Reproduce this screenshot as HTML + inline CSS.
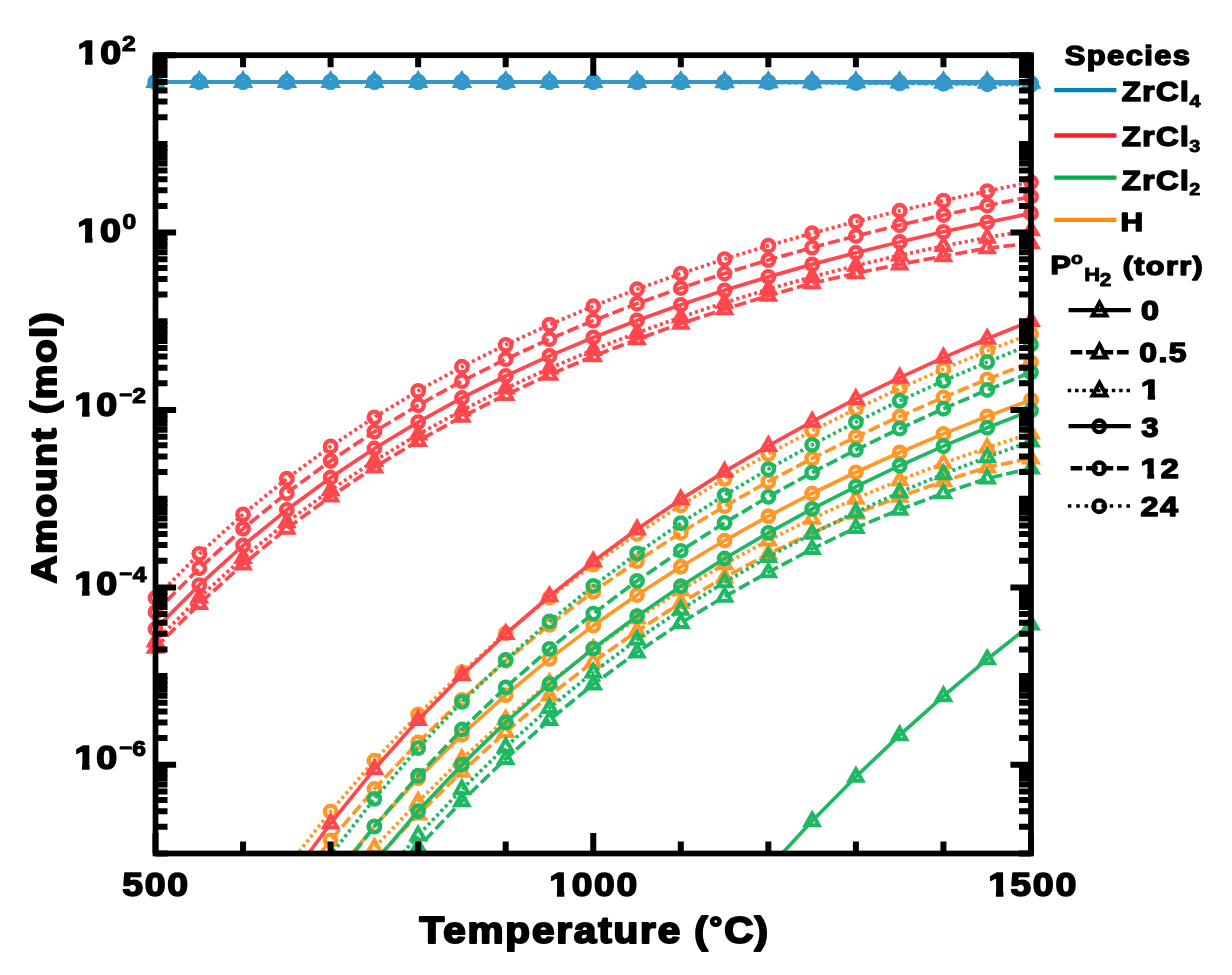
<!DOCTYPE html>
<html lang="en"><head><meta charset="utf-8"><title>Amount vs Temperature</title>
<style>html,body{margin:0;padding:0;background:#fff}svg{display:block}</style></head>
<body>
<svg width="1232" height="975" viewBox="0 0 1232 975">
<defs><clipPath id="cp"><rect x="155.5" y="55.2" width="875.5" height="798.3"/></clipPath><clipPath id="k0"><path clip-rule="evenodd" d="M-2000,-200 H2000 V200 H-2000 Z M67.02,-5.85 H74.21 V2.60 H67.02 Z M80.71,-5.85 H87.48 V2.60 H80.71 Z"/></clipPath><clipPath id="k1"><path clip-rule="evenodd" d="M-2000,-200 H2000 V200 H-2000 Z M66.93,-5.85 H74.12 V2.60 H66.93 Z M80.62,-5.85 H87.39 V2.60 H80.62 Z"/></clipPath><clipPath id="k2"><path clip-rule="evenodd" d="M-2000,-200 H2000 V200 H-2000 Z M64.40,-5.85 H71.59 V2.60 H64.40 Z M78.09,-5.85 H84.87 V2.60 H78.09 Z"/></clipPath><clipPath id="k3"><path clip-rule="evenodd" d="M-2000,-200 H2000 V200 H-2000 Z M64.40,-5.85 H71.59 V2.60 H64.40 Z M78.09,-5.85 H84.87 V2.60 H78.09 Z"/></clipPath><clipPath id="k4"><path clip-rule="evenodd" d="M-2000,-200 H2000 V200 H-2000 Z M64.40,-5.85 H71.59 V2.60 H64.40 Z M78.09,-5.85 H84.87 V2.60 H78.09 Z"/></clipPath><clipPath id="k5"><path clip-rule="evenodd" d="M-2000,-200 H2000 V200 H-2000 Z M496.55,-5.94 H503.88 V2.60 H496.55 Z M510.50,-5.94 H517.41 V2.60 H510.50 Z"/></clipPath><clipPath id="k6"><path clip-rule="evenodd" d="M-2000,-200 H2000 V200 H-2000 Z M885.10,-5.94 H892.44 V2.60 H885.10 Z M899.06,-5.94 H905.97 V2.60 H899.06 Z"/></clipPath><clipPath id="k7"><path clip-rule="evenodd" d="M-2000,-200 H2000 V200 H-2000 Z M880.60,-5.23 H886.79 V2.50 H880.60 Z M892.43,-5.23 H898.28 V2.50 H892.43 Z"/></clipPath><clipPath id="k8"><path clip-rule="evenodd" d="M-2000,-200 H2000 V200 H-2000 Z M971.67,-5.36 H978.08 V2.50 H971.67 Z M983.89,-5.36 H989.93 V2.50 H983.89 Z"/></clipPath></defs>
<rect width="1232" height="975" fill="#fff"/>
<g id="data">
<polyline points="155.50,1112.41 199.28,1065.27 243.05,1013.51 286.82,960.89 330.60,909.51 374.38,860.52 418.15,814.49 461.92,771.65 505.70,732.02 549.48,695.51 593.25,661.94 637.03,631.13 680.80,602.87 724.58,577.31 768.35,553.89 812.12,532.83 855.90,513.56 899.67,496.67 943.45,481.26 987.22,467.20 1031.00,458.37" fill="none" stroke="#FF9828" stroke-width="3.7" stroke-linejoin="round" stroke-dasharray="12 4.2" clip-path="url(#cp)"/>
<path d="M418.15,806.96 L424.74,818.59 L411.56,818.59 Z" fill="none" stroke="#FF9828" stroke-width="4.0" stroke-linejoin="miter" stroke-miterlimit="10"/>
<path d="M461.92,764.12 L468.51,775.75 L455.33,775.75 Z" fill="none" stroke="#FF9828" stroke-width="4.0" stroke-linejoin="miter" stroke-miterlimit="10"/>
<path d="M505.70,724.49 L512.29,736.12 L499.11,736.12 Z" fill="none" stroke="#FF9828" stroke-width="4.0" stroke-linejoin="miter" stroke-miterlimit="10"/>
<path d="M549.48,687.98 L556.07,699.61 L542.88,699.61 Z" fill="none" stroke="#FF9828" stroke-width="4.0" stroke-linejoin="miter" stroke-miterlimit="10"/>
<path d="M593.25,654.41 L599.84,666.04 L586.66,666.04 Z" fill="none" stroke="#FF9828" stroke-width="4.0" stroke-linejoin="miter" stroke-miterlimit="10"/>
<path d="M637.03,623.60 L643.62,635.23 L630.44,635.23 Z" fill="none" stroke="#FF9828" stroke-width="4.0" stroke-linejoin="miter" stroke-miterlimit="10"/>
<path d="M680.80,595.34 L687.39,606.97 L674.21,606.97 Z" fill="none" stroke="#FF9828" stroke-width="4.0" stroke-linejoin="miter" stroke-miterlimit="10"/>
<path d="M724.58,569.78 L731.17,581.41 L717.99,581.41 Z" fill="none" stroke="#FF9828" stroke-width="4.0" stroke-linejoin="miter" stroke-miterlimit="10"/>
<path d="M768.35,546.36 L774.94,557.99 L761.76,557.99 Z" fill="none" stroke="#FF9828" stroke-width="4.0" stroke-linejoin="miter" stroke-miterlimit="10"/>
<path d="M812.12,525.30 L818.72,536.93 L805.53,536.93 Z" fill="none" stroke="#FF9828" stroke-width="4.0" stroke-linejoin="miter" stroke-miterlimit="10"/>
<path d="M855.90,506.03 L862.49,517.66 L849.31,517.66 Z" fill="none" stroke="#FF9828" stroke-width="4.0" stroke-linejoin="miter" stroke-miterlimit="10"/>
<path d="M899.67,489.14 L906.26,500.77 L893.08,500.77 Z" fill="none" stroke="#FF9828" stroke-width="4.0" stroke-linejoin="miter" stroke-miterlimit="10"/>
<path d="M943.45,473.73 L950.04,485.36 L936.86,485.36 Z" fill="none" stroke="#FF9828" stroke-width="4.0" stroke-linejoin="miter" stroke-miterlimit="10"/>
<path d="M987.22,459.67 L993.81,471.30 L980.63,471.30 Z" fill="none" stroke="#FF9828" stroke-width="4.0" stroke-linejoin="miter" stroke-miterlimit="10"/>
<path d="M1031.00,450.84 L1037.59,462.47 L1024.41,462.47 Z" fill="none" stroke="#FF9828" stroke-width="4.0" stroke-linejoin="miter" stroke-miterlimit="10"/>
<polyline points="155.50,1099.61 199.28,1052.47 243.05,1000.71 286.82,948.09 330.60,896.71 374.38,847.72 418.15,801.69 461.92,758.85 505.70,719.22 549.48,682.71 593.25,649.14 637.03,618.33 680.80,590.07 724.58,564.16 768.35,540.39 812.12,518.58 855.90,498.56 899.67,480.17 943.45,463.26 987.22,447.70 1031.00,433.37" fill="none" stroke="#FF9828" stroke-width="3.7" stroke-linejoin="round" stroke-dasharray="3.1 3.1" clip-path="url(#cp)"/>
<path d="M374.38,840.19 L380.96,851.82 L367.79,851.82 Z" fill="none" stroke="#FF9828" stroke-width="4.0" stroke-linejoin="miter" stroke-miterlimit="10"/>
<path d="M418.15,794.16 L424.74,805.79 L411.56,805.79 Z" fill="none" stroke="#FF9828" stroke-width="4.0" stroke-linejoin="miter" stroke-miterlimit="10"/>
<path d="M461.92,751.32 L468.51,762.95 L455.33,762.95 Z" fill="none" stroke="#FF9828" stroke-width="4.0" stroke-linejoin="miter" stroke-miterlimit="10"/>
<path d="M505.70,711.69 L512.29,723.32 L499.11,723.32 Z" fill="none" stroke="#FF9828" stroke-width="4.0" stroke-linejoin="miter" stroke-miterlimit="10"/>
<path d="M549.48,675.18 L556.07,686.81 L542.88,686.81 Z" fill="none" stroke="#FF9828" stroke-width="4.0" stroke-linejoin="miter" stroke-miterlimit="10"/>
<path d="M593.25,641.61 L599.84,653.24 L586.66,653.24 Z" fill="none" stroke="#FF9828" stroke-width="4.0" stroke-linejoin="miter" stroke-miterlimit="10"/>
<path d="M637.03,610.80 L643.62,622.43 L630.44,622.43 Z" fill="none" stroke="#FF9828" stroke-width="4.0" stroke-linejoin="miter" stroke-miterlimit="10"/>
<path d="M680.80,582.54 L687.39,594.17 L674.21,594.17 Z" fill="none" stroke="#FF9828" stroke-width="4.0" stroke-linejoin="miter" stroke-miterlimit="10"/>
<path d="M724.58,556.63 L731.17,568.26 L717.99,568.26 Z" fill="none" stroke="#FF9828" stroke-width="4.0" stroke-linejoin="miter" stroke-miterlimit="10"/>
<path d="M768.35,532.86 L774.94,544.49 L761.76,544.49 Z" fill="none" stroke="#FF9828" stroke-width="4.0" stroke-linejoin="miter" stroke-miterlimit="10"/>
<path d="M812.12,511.05 L818.72,522.68 L805.53,522.68 Z" fill="none" stroke="#FF9828" stroke-width="4.0" stroke-linejoin="miter" stroke-miterlimit="10"/>
<path d="M855.90,491.03 L862.49,502.66 L849.31,502.66 Z" fill="none" stroke="#FF9828" stroke-width="4.0" stroke-linejoin="miter" stroke-miterlimit="10"/>
<path d="M899.67,472.64 L906.26,484.27 L893.08,484.27 Z" fill="none" stroke="#FF9828" stroke-width="4.0" stroke-linejoin="miter" stroke-miterlimit="10"/>
<path d="M943.45,455.73 L950.04,467.36 L936.86,467.36 Z" fill="none" stroke="#FF9828" stroke-width="4.0" stroke-linejoin="miter" stroke-miterlimit="10"/>
<path d="M987.22,440.17 L993.81,451.80 L980.63,451.80 Z" fill="none" stroke="#FF9828" stroke-width="4.0" stroke-linejoin="miter" stroke-miterlimit="10"/>
<path d="M1031.00,425.84 L1037.59,437.47 L1024.41,437.47 Z" fill="none" stroke="#FF9828" stroke-width="4.0" stroke-linejoin="miter" stroke-miterlimit="10"/>
<polyline points="155.50,1166.96 199.28,1081.09 243.05,1005.70 286.82,939.01 330.60,879.58 374.38,826.31 418.15,778.27 461.92,734.74 505.70,695.11 549.48,658.88 593.25,625.64 637.03,595.02 680.80,566.74 724.58,540.53 768.35,516.17 812.12,493.48 855.90,472.28 899.67,452.45 943.45,433.84 987.22,416.35 1031.00,399.89" fill="none" stroke="#FF9828" stroke-width="3.7" stroke-linejoin="round" clip-path="url(#cp)"/>
<circle cx="374.38" cy="826.31" r="5.7" fill="none" stroke="#FF9828" stroke-width="4.4"/>
<circle cx="418.15" cy="778.27" r="5.7" fill="none" stroke="#FF9828" stroke-width="4.4"/>
<circle cx="461.92" cy="734.74" r="5.7" fill="none" stroke="#FF9828" stroke-width="4.4"/>
<circle cx="505.70" cy="695.11" r="5.7" fill="none" stroke="#FF9828" stroke-width="4.4"/>
<circle cx="549.48" cy="658.88" r="5.7" fill="none" stroke="#FF9828" stroke-width="4.4"/>
<circle cx="593.25" cy="625.64" r="5.7" fill="none" stroke="#FF9828" stroke-width="4.4"/>
<circle cx="637.03" cy="595.02" r="5.7" fill="none" stroke="#FF9828" stroke-width="4.4"/>
<circle cx="680.80" cy="566.74" r="5.7" fill="none" stroke="#FF9828" stroke-width="4.4"/>
<circle cx="724.58" cy="540.53" r="5.7" fill="none" stroke="#FF9828" stroke-width="4.4"/>
<circle cx="768.35" cy="516.17" r="5.7" fill="none" stroke="#FF9828" stroke-width="4.4"/>
<circle cx="812.12" cy="493.48" r="5.7" fill="none" stroke="#FF9828" stroke-width="4.4"/>
<circle cx="855.90" cy="472.28" r="5.7" fill="none" stroke="#FF9828" stroke-width="4.4"/>
<circle cx="899.67" cy="452.45" r="5.7" fill="none" stroke="#FF9828" stroke-width="4.4"/>
<circle cx="943.45" cy="433.84" r="5.7" fill="none" stroke="#FF9828" stroke-width="4.4"/>
<circle cx="987.22" cy="416.35" r="5.7" fill="none" stroke="#FF9828" stroke-width="4.4"/>
<circle cx="1031.00" cy="399.89" r="5.7" fill="none" stroke="#FF9828" stroke-width="4.4"/>
<polyline points="155.50,1110.18 199.28,1030.74 243.05,960.17 286.82,897.07 330.60,840.31 374.38,788.98 418.15,742.35 461.92,699.78 505.70,660.78 549.48,624.91 593.25,591.81 637.03,561.18 680.80,532.74 724.58,506.27 768.35,481.57 812.12,458.47 855.90,436.81 899.67,416.48 943.45,397.35 987.22,379.31 1031.00,362.28" fill="none" stroke="#FF9828" stroke-width="3.7" stroke-linejoin="round" stroke-dasharray="12 4.2" clip-path="url(#cp)"/>
<circle cx="330.60" cy="840.31" r="5.7" fill="none" stroke="#FF9828" stroke-width="4.4"/>
<circle cx="374.38" cy="788.98" r="5.7" fill="none" stroke="#FF9828" stroke-width="4.4"/>
<circle cx="418.15" cy="742.35" r="5.7" fill="none" stroke="#FF9828" stroke-width="4.4"/>
<circle cx="461.92" cy="699.78" r="5.7" fill="none" stroke="#FF9828" stroke-width="4.4"/>
<circle cx="505.70" cy="660.78" r="5.7" fill="none" stroke="#FF9828" stroke-width="4.4"/>
<circle cx="549.48" cy="624.91" r="5.7" fill="none" stroke="#FF9828" stroke-width="4.4"/>
<circle cx="593.25" cy="591.81" r="5.7" fill="none" stroke="#FF9828" stroke-width="4.4"/>
<circle cx="637.03" cy="561.18" r="5.7" fill="none" stroke="#FF9828" stroke-width="4.4"/>
<circle cx="680.80" cy="532.74" r="5.7" fill="none" stroke="#FF9828" stroke-width="4.4"/>
<circle cx="724.58" cy="506.27" r="5.7" fill="none" stroke="#FF9828" stroke-width="4.4"/>
<circle cx="768.35" cy="481.57" r="5.7" fill="none" stroke="#FF9828" stroke-width="4.4"/>
<circle cx="812.12" cy="458.47" r="5.7" fill="none" stroke="#FF9828" stroke-width="4.4"/>
<circle cx="855.90" cy="436.81" r="5.7" fill="none" stroke="#FF9828" stroke-width="4.4"/>
<circle cx="899.67" cy="416.48" r="5.7" fill="none" stroke="#FF9828" stroke-width="4.4"/>
<circle cx="943.45" cy="397.35" r="5.7" fill="none" stroke="#FF9828" stroke-width="4.4"/>
<circle cx="987.22" cy="379.31" r="5.7" fill="none" stroke="#FF9828" stroke-width="4.4"/>
<circle cx="1031.00" cy="362.28" r="5.7" fill="none" stroke="#FF9828" stroke-width="4.4"/>
<polyline points="155.50,1076.08 199.28,998.59 243.05,929.47 286.82,867.45 330.60,811.48 374.38,760.73 418.15,714.50 461.92,672.22 505.70,633.39 549.48,597.62 593.25,564.55 637.03,533.89 680.80,505.39 724.58,478.83 768.35,454.01 812.12,430.78 855.90,408.98 899.67,388.48 943.45,369.17 987.22,350.96 1031.00,333.75" fill="none" stroke="#FF9828" stroke-width="3.7" stroke-linejoin="round" stroke-dasharray="3.1 3.1" clip-path="url(#cp)"/>
<circle cx="330.60" cy="811.48" r="5.7" fill="none" stroke="#FF9828" stroke-width="4.4"/>
<circle cx="374.38" cy="760.73" r="5.7" fill="none" stroke="#FF9828" stroke-width="4.4"/>
<circle cx="418.15" cy="714.50" r="5.7" fill="none" stroke="#FF9828" stroke-width="4.4"/>
<circle cx="461.92" cy="672.22" r="5.7" fill="none" stroke="#FF9828" stroke-width="4.4"/>
<circle cx="505.70" cy="633.39" r="5.7" fill="none" stroke="#FF9828" stroke-width="4.4"/>
<circle cx="549.48" cy="597.62" r="5.7" fill="none" stroke="#FF9828" stroke-width="4.4"/>
<circle cx="593.25" cy="564.55" r="5.7" fill="none" stroke="#FF9828" stroke-width="4.4"/>
<circle cx="637.03" cy="533.89" r="5.7" fill="none" stroke="#FF9828" stroke-width="4.4"/>
<circle cx="680.80" cy="505.39" r="5.7" fill="none" stroke="#FF9828" stroke-width="4.4"/>
<circle cx="724.58" cy="478.83" r="5.7" fill="none" stroke="#FF9828" stroke-width="4.4"/>
<circle cx="768.35" cy="454.01" r="5.7" fill="none" stroke="#FF9828" stroke-width="4.4"/>
<circle cx="812.12" cy="430.78" r="5.7" fill="none" stroke="#FF9828" stroke-width="4.4"/>
<circle cx="855.90" cy="408.98" r="5.7" fill="none" stroke="#FF9828" stroke-width="4.4"/>
<circle cx="899.67" cy="388.48" r="5.7" fill="none" stroke="#FF9828" stroke-width="4.4"/>
<circle cx="943.45" cy="369.17" r="5.7" fill="none" stroke="#FF9828" stroke-width="4.4"/>
<circle cx="987.22" cy="350.96" r="5.7" fill="none" stroke="#FF9828" stroke-width="4.4"/>
<circle cx="1031.00" cy="333.75" r="5.7" fill="none" stroke="#FF9828" stroke-width="4.4"/>
<polyline points="461.92,1317.61 505.70,1237.02 549.48,1163.02 593.25,1094.84 637.03,1031.81 680.80,973.37 724.58,919.03 768.35,868.39 812.12,821.07 855.90,776.76 899.67,735.17 943.45,696.08 987.22,659.25 1031.00,624.50" fill="none" stroke="#1FB862" stroke-width="3.7" stroke-linejoin="round" clip-path="url(#cp)"/>
<path d="M812.12,813.54 L818.72,825.17 L805.53,825.17 Z" fill="none" stroke="#1FB862" stroke-width="4.0" stroke-linejoin="miter" stroke-miterlimit="10"/>
<path d="M855.90,769.23 L862.49,780.86 L849.31,780.86 Z" fill="none" stroke="#1FB862" stroke-width="4.0" stroke-linejoin="miter" stroke-miterlimit="10"/>
<path d="M899.67,727.64 L906.26,739.27 L893.08,739.27 Z" fill="none" stroke="#1FB862" stroke-width="4.0" stroke-linejoin="miter" stroke-miterlimit="10"/>
<path d="M943.45,688.55 L950.04,700.18 L936.86,700.18 Z" fill="none" stroke="#1FB862" stroke-width="4.0" stroke-linejoin="miter" stroke-miterlimit="10"/>
<path d="M987.22,651.72 L993.81,663.35 L980.63,663.35 Z" fill="none" stroke="#1FB862" stroke-width="4.0" stroke-linejoin="miter" stroke-miterlimit="10"/>
<path d="M1031.00,616.97 L1037.59,628.60 L1024.41,628.60 Z" fill="none" stroke="#1FB862" stroke-width="4.0" stroke-linejoin="miter" stroke-miterlimit="10"/>
<polyline points="155.50,1205.30 199.28,1138.69 243.05,1073.22 286.82,1010.73 330.60,952.09 374.38,897.64 418.15,847.40 461.92,801.20 505.70,758.82 549.48,719.96 593.25,684.35 637.03,652.30 680.80,622.94 724.58,596.53 768.35,572.24 812.12,548.95 855.90,527.79 899.67,509.57 943.45,493.26 987.22,478.42 1031.00,468.41" fill="none" stroke="#1FB862" stroke-width="3.7" stroke-linejoin="round" stroke-dasharray="12 4.2" clip-path="url(#cp)"/>
<path d="M418.15,839.87 L424.74,851.50 L411.56,851.50 Z" fill="none" stroke="#1FB862" stroke-width="4.0" stroke-linejoin="miter" stroke-miterlimit="10"/>
<path d="M461.92,793.67 L468.51,805.30 L455.33,805.30 Z" fill="none" stroke="#1FB862" stroke-width="4.0" stroke-linejoin="miter" stroke-miterlimit="10"/>
<path d="M505.70,751.29 L512.29,762.92 L499.11,762.92 Z" fill="none" stroke="#1FB862" stroke-width="4.0" stroke-linejoin="miter" stroke-miterlimit="10"/>
<path d="M549.48,712.43 L556.07,724.06 L542.88,724.06 Z" fill="none" stroke="#1FB862" stroke-width="4.0" stroke-linejoin="miter" stroke-miterlimit="10"/>
<path d="M593.25,676.82 L599.84,688.45 L586.66,688.45 Z" fill="none" stroke="#1FB862" stroke-width="4.0" stroke-linejoin="miter" stroke-miterlimit="10"/>
<path d="M637.03,644.77 L643.62,656.40 L630.44,656.40 Z" fill="none" stroke="#1FB862" stroke-width="4.0" stroke-linejoin="miter" stroke-miterlimit="10"/>
<path d="M680.80,615.41 L687.39,627.04 L674.21,627.04 Z" fill="none" stroke="#1FB862" stroke-width="4.0" stroke-linejoin="miter" stroke-miterlimit="10"/>
<path d="M724.58,589.00 L731.17,600.63 L717.99,600.63 Z" fill="none" stroke="#1FB862" stroke-width="4.0" stroke-linejoin="miter" stroke-miterlimit="10"/>
<path d="M768.35,564.71 L774.94,576.34 L761.76,576.34 Z" fill="none" stroke="#1FB862" stroke-width="4.0" stroke-linejoin="miter" stroke-miterlimit="10"/>
<path d="M812.12,541.42 L818.72,553.05 L805.53,553.05 Z" fill="none" stroke="#1FB862" stroke-width="4.0" stroke-linejoin="miter" stroke-miterlimit="10"/>
<path d="M855.90,520.26 L862.49,531.89 L849.31,531.89 Z" fill="none" stroke="#1FB862" stroke-width="4.0" stroke-linejoin="miter" stroke-miterlimit="10"/>
<path d="M899.67,502.04 L906.26,513.67 L893.08,513.67 Z" fill="none" stroke="#1FB862" stroke-width="4.0" stroke-linejoin="miter" stroke-miterlimit="10"/>
<path d="M943.45,485.73 L950.04,497.36 L936.86,497.36 Z" fill="none" stroke="#1FB862" stroke-width="4.0" stroke-linejoin="miter" stroke-miterlimit="10"/>
<path d="M987.22,470.89 L993.81,482.52 L980.63,482.52 Z" fill="none" stroke="#1FB862" stroke-width="4.0" stroke-linejoin="miter" stroke-miterlimit="10"/>
<path d="M1031.00,460.88 L1037.59,472.51 L1024.41,472.51 Z" fill="none" stroke="#1FB862" stroke-width="4.0" stroke-linejoin="miter" stroke-miterlimit="10"/>
<polyline points="155.50,1193.30 199.28,1126.69 243.05,1061.22 286.82,998.73 330.60,940.09 374.38,885.64 418.15,835.40 461.92,789.20 505.70,746.82 549.48,707.96 593.25,672.35 637.03,639.70 680.80,609.74 724.58,582.23 768.35,556.94 812.12,533.65 855.90,512.19 899.67,492.37 943.45,474.06 987.22,457.12 1031.00,441.41" fill="none" stroke="#1FB862" stroke-width="3.7" stroke-linejoin="round" stroke-dasharray="3.1 3.1" clip-path="url(#cp)"/>
<path d="M418.15,827.87 L424.74,839.50 L411.56,839.50 Z" fill="none" stroke="#1FB862" stroke-width="4.0" stroke-linejoin="miter" stroke-miterlimit="10"/>
<path d="M461.92,781.67 L468.51,793.30 L455.33,793.30 Z" fill="none" stroke="#1FB862" stroke-width="4.0" stroke-linejoin="miter" stroke-miterlimit="10"/>
<path d="M505.70,739.29 L512.29,750.92 L499.11,750.92 Z" fill="none" stroke="#1FB862" stroke-width="4.0" stroke-linejoin="miter" stroke-miterlimit="10"/>
<path d="M549.48,700.43 L556.07,712.06 L542.88,712.06 Z" fill="none" stroke="#1FB862" stroke-width="4.0" stroke-linejoin="miter" stroke-miterlimit="10"/>
<path d="M593.25,664.82 L599.84,676.45 L586.66,676.45 Z" fill="none" stroke="#1FB862" stroke-width="4.0" stroke-linejoin="miter" stroke-miterlimit="10"/>
<path d="M637.03,632.17 L643.62,643.80 L630.44,643.80 Z" fill="none" stroke="#1FB862" stroke-width="4.0" stroke-linejoin="miter" stroke-miterlimit="10"/>
<path d="M680.80,602.21 L687.39,613.84 L674.21,613.84 Z" fill="none" stroke="#1FB862" stroke-width="4.0" stroke-linejoin="miter" stroke-miterlimit="10"/>
<path d="M724.58,574.70 L731.17,586.33 L717.99,586.33 Z" fill="none" stroke="#1FB862" stroke-width="4.0" stroke-linejoin="miter" stroke-miterlimit="10"/>
<path d="M768.35,549.41 L774.94,561.04 L761.76,561.04 Z" fill="none" stroke="#1FB862" stroke-width="4.0" stroke-linejoin="miter" stroke-miterlimit="10"/>
<path d="M812.12,526.12 L818.72,537.75 L805.53,537.75 Z" fill="none" stroke="#1FB862" stroke-width="4.0" stroke-linejoin="miter" stroke-miterlimit="10"/>
<path d="M855.90,504.66 L862.49,516.29 L849.31,516.29 Z" fill="none" stroke="#1FB862" stroke-width="4.0" stroke-linejoin="miter" stroke-miterlimit="10"/>
<path d="M899.67,484.84 L906.26,496.47 L893.08,496.47 Z" fill="none" stroke="#1FB862" stroke-width="4.0" stroke-linejoin="miter" stroke-miterlimit="10"/>
<path d="M943.45,466.53 L950.04,478.16 L936.86,478.16 Z" fill="none" stroke="#1FB862" stroke-width="4.0" stroke-linejoin="miter" stroke-miterlimit="10"/>
<path d="M987.22,449.59 L993.81,461.22 L980.63,461.22 Z" fill="none" stroke="#1FB862" stroke-width="4.0" stroke-linejoin="miter" stroke-miterlimit="10"/>
<path d="M1031.00,433.88 L1037.59,445.51 L1024.41,445.51 Z" fill="none" stroke="#1FB862" stroke-width="4.0" stroke-linejoin="miter" stroke-miterlimit="10"/>
<polyline points="155.50,1230.00 199.28,1136.87 243.05,1055.38 286.82,983.49 330.60,919.62 374.38,862.50 418.15,811.12 461.92,764.65 505.70,722.43 549.48,683.91 593.25,648.61 637.03,616.16 680.80,586.23 724.58,558.52 768.35,532.81 812.12,508.88 855.90,486.56 899.67,465.69 943.45,446.14 987.22,427.78 1031.00,410.51" fill="none" stroke="#1FB862" stroke-width="3.7" stroke-linejoin="round" clip-path="url(#cp)"/>
<circle cx="418.15" cy="811.12" r="5.7" fill="none" stroke="#1FB862" stroke-width="4.4"/>
<circle cx="461.92" cy="764.65" r="5.7" fill="none" stroke="#1FB862" stroke-width="4.4"/>
<circle cx="505.70" cy="722.43" r="5.7" fill="none" stroke="#1FB862" stroke-width="4.4"/>
<circle cx="549.48" cy="683.91" r="5.7" fill="none" stroke="#1FB862" stroke-width="4.4"/>
<circle cx="593.25" cy="648.61" r="5.7" fill="none" stroke="#1FB862" stroke-width="4.4"/>
<circle cx="637.03" cy="616.16" r="5.7" fill="none" stroke="#1FB862" stroke-width="4.4"/>
<circle cx="680.80" cy="586.23" r="5.7" fill="none" stroke="#1FB862" stroke-width="4.4"/>
<circle cx="724.58" cy="558.52" r="5.7" fill="none" stroke="#1FB862" stroke-width="4.4"/>
<circle cx="768.35" cy="532.81" r="5.7" fill="none" stroke="#1FB862" stroke-width="4.4"/>
<circle cx="812.12" cy="508.88" r="5.7" fill="none" stroke="#1FB862" stroke-width="4.4"/>
<circle cx="855.90" cy="486.56" r="5.7" fill="none" stroke="#1FB862" stroke-width="4.4"/>
<circle cx="899.67" cy="465.69" r="5.7" fill="none" stroke="#1FB862" stroke-width="4.4"/>
<circle cx="943.45" cy="446.14" r="5.7" fill="none" stroke="#1FB862" stroke-width="4.4"/>
<circle cx="987.22" cy="427.78" r="5.7" fill="none" stroke="#1FB862" stroke-width="4.4"/>
<circle cx="1031.00" cy="410.51" r="5.7" fill="none" stroke="#1FB862" stroke-width="4.4"/>
<polyline points="155.50,1185.31 199.28,1095.18 243.05,1015.90 286.82,945.61 330.60,882.88 374.38,826.54 418.15,775.67 461.92,729.51 505.70,687.43 549.48,648.92 593.25,613.55 637.03,580.94 680.80,550.78 724.58,522.81 768.35,496.80 812.12,472.55 855.90,449.88 899.67,428.65 943.45,408.73 987.22,389.99 1031.00,372.34" fill="none" stroke="#1FB862" stroke-width="3.7" stroke-linejoin="round" stroke-dasharray="12 4.2" clip-path="url(#cp)"/>
<circle cx="374.38" cy="826.54" r="5.7" fill="none" stroke="#1FB862" stroke-width="4.4"/>
<circle cx="418.15" cy="775.67" r="5.7" fill="none" stroke="#1FB862" stroke-width="4.4"/>
<circle cx="461.92" cy="729.51" r="5.7" fill="none" stroke="#1FB862" stroke-width="4.4"/>
<circle cx="505.70" cy="687.43" r="5.7" fill="none" stroke="#1FB862" stroke-width="4.4"/>
<circle cx="549.48" cy="648.92" r="5.7" fill="none" stroke="#1FB862" stroke-width="4.4"/>
<circle cx="593.25" cy="613.55" r="5.7" fill="none" stroke="#1FB862" stroke-width="4.4"/>
<circle cx="637.03" cy="580.94" r="5.7" fill="none" stroke="#1FB862" stroke-width="4.4"/>
<circle cx="680.80" cy="550.78" r="5.7" fill="none" stroke="#1FB862" stroke-width="4.4"/>
<circle cx="724.58" cy="522.81" r="5.7" fill="none" stroke="#1FB862" stroke-width="4.4"/>
<circle cx="768.35" cy="496.80" r="5.7" fill="none" stroke="#1FB862" stroke-width="4.4"/>
<circle cx="812.12" cy="472.55" r="5.7" fill="none" stroke="#1FB862" stroke-width="4.4"/>
<circle cx="855.90" cy="449.88" r="5.7" fill="none" stroke="#1FB862" stroke-width="4.4"/>
<circle cx="899.67" cy="428.65" r="5.7" fill="none" stroke="#1FB862" stroke-width="4.4"/>
<circle cx="943.45" cy="408.73" r="5.7" fill="none" stroke="#1FB862" stroke-width="4.4"/>
<circle cx="987.22" cy="389.99" r="5.7" fill="none" stroke="#1FB862" stroke-width="4.4"/>
<circle cx="1031.00" cy="372.34" r="5.7" fill="none" stroke="#1FB862" stroke-width="4.4"/>
<polyline points="155.50,1156.31 199.28,1066.64 243.05,987.68 286.82,917.63 330.60,855.07 374.38,798.85 418.15,748.06 461.92,701.95 505.70,659.90 549.48,621.40 593.25,586.02 637.03,553.39 680.80,523.20 724.58,495.20 768.35,469.15 812.12,444.85 855.90,422.13 899.67,400.86 943.45,380.88 987.22,362.09 1031.00,344.38" fill="none" stroke="#1FB862" stroke-width="3.7" stroke-linejoin="round" stroke-dasharray="3.1 3.1" clip-path="url(#cp)"/>
<circle cx="374.38" cy="798.85" r="5.7" fill="none" stroke="#1FB862" stroke-width="4.4"/>
<circle cx="418.15" cy="748.06" r="5.7" fill="none" stroke="#1FB862" stroke-width="4.4"/>
<circle cx="461.92" cy="701.95" r="5.7" fill="none" stroke="#1FB862" stroke-width="4.4"/>
<circle cx="505.70" cy="659.90" r="5.7" fill="none" stroke="#1FB862" stroke-width="4.4"/>
<circle cx="549.48" cy="621.40" r="5.7" fill="none" stroke="#1FB862" stroke-width="4.4"/>
<circle cx="593.25" cy="586.02" r="5.7" fill="none" stroke="#1FB862" stroke-width="4.4"/>
<circle cx="637.03" cy="553.39" r="5.7" fill="none" stroke="#1FB862" stroke-width="4.4"/>
<circle cx="680.80" cy="523.20" r="5.7" fill="none" stroke="#1FB862" stroke-width="4.4"/>
<circle cx="724.58" cy="495.20" r="5.7" fill="none" stroke="#1FB862" stroke-width="4.4"/>
<circle cx="768.35" cy="469.15" r="5.7" fill="none" stroke="#1FB862" stroke-width="4.4"/>
<circle cx="812.12" cy="444.85" r="5.7" fill="none" stroke="#1FB862" stroke-width="4.4"/>
<circle cx="855.90" cy="422.13" r="5.7" fill="none" stroke="#1FB862" stroke-width="4.4"/>
<circle cx="899.67" cy="400.86" r="5.7" fill="none" stroke="#1FB862" stroke-width="4.4"/>
<circle cx="943.45" cy="380.88" r="5.7" fill="none" stroke="#1FB862" stroke-width="4.4"/>
<circle cx="987.22" cy="362.09" r="5.7" fill="none" stroke="#1FB862" stroke-width="4.4"/>
<circle cx="1031.00" cy="344.38" r="5.7" fill="none" stroke="#1FB862" stroke-width="4.4"/>
<polyline points="155.50,1109.61 199.28,1025.14 243.05,950.25 286.82,883.40 330.60,823.35 374.38,769.13 418.15,719.92 461.92,675.05 505.70,633.98 549.48,596.25 593.25,561.46 637.03,529.28 680.80,499.43 724.58,471.67 768.35,445.78 812.12,421.58 855.90,398.91 899.67,377.63 943.45,357.61 987.22,338.75 1031.00,320.95" fill="none" stroke="#FF474D" stroke-width="3.7" stroke-linejoin="round" clip-path="url(#cp)"/>
<path d="M330.60,815.82 L337.19,827.45 L324.01,827.45 Z" fill="none" stroke="#FF474D" stroke-width="4.0" stroke-linejoin="miter" stroke-miterlimit="10"/>
<path d="M374.38,761.60 L380.96,773.23 L367.79,773.23 Z" fill="none" stroke="#FF474D" stroke-width="4.0" stroke-linejoin="miter" stroke-miterlimit="10"/>
<path d="M418.15,712.39 L424.74,724.02 L411.56,724.02 Z" fill="none" stroke="#FF474D" stroke-width="4.0" stroke-linejoin="miter" stroke-miterlimit="10"/>
<path d="M461.92,667.52 L468.51,679.15 L455.33,679.15 Z" fill="none" stroke="#FF474D" stroke-width="4.0" stroke-linejoin="miter" stroke-miterlimit="10"/>
<path d="M505.70,626.45 L512.29,638.08 L499.11,638.08 Z" fill="none" stroke="#FF474D" stroke-width="4.0" stroke-linejoin="miter" stroke-miterlimit="10"/>
<path d="M549.48,588.72 L556.07,600.35 L542.88,600.35 Z" fill="none" stroke="#FF474D" stroke-width="4.0" stroke-linejoin="miter" stroke-miterlimit="10"/>
<path d="M593.25,553.93 L599.84,565.56 L586.66,565.56 Z" fill="none" stroke="#FF474D" stroke-width="4.0" stroke-linejoin="miter" stroke-miterlimit="10"/>
<path d="M637.03,521.75 L643.62,533.38 L630.44,533.38 Z" fill="none" stroke="#FF474D" stroke-width="4.0" stroke-linejoin="miter" stroke-miterlimit="10"/>
<path d="M680.80,491.90 L687.39,503.53 L674.21,503.53 Z" fill="none" stroke="#FF474D" stroke-width="4.0" stroke-linejoin="miter" stroke-miterlimit="10"/>
<path d="M724.58,464.14 L731.17,475.77 L717.99,475.77 Z" fill="none" stroke="#FF474D" stroke-width="4.0" stroke-linejoin="miter" stroke-miterlimit="10"/>
<path d="M768.35,438.25 L774.94,449.88 L761.76,449.88 Z" fill="none" stroke="#FF474D" stroke-width="4.0" stroke-linejoin="miter" stroke-miterlimit="10"/>
<path d="M812.12,414.05 L818.72,425.68 L805.53,425.68 Z" fill="none" stroke="#FF474D" stroke-width="4.0" stroke-linejoin="miter" stroke-miterlimit="10"/>
<path d="M855.90,391.38 L862.49,403.01 L849.31,403.01 Z" fill="none" stroke="#FF474D" stroke-width="4.0" stroke-linejoin="miter" stroke-miterlimit="10"/>
<path d="M899.67,370.10 L906.26,381.73 L893.08,381.73 Z" fill="none" stroke="#FF474D" stroke-width="4.0" stroke-linejoin="miter" stroke-miterlimit="10"/>
<path d="M943.45,350.08 L950.04,361.71 L936.86,361.71 Z" fill="none" stroke="#FF474D" stroke-width="4.0" stroke-linejoin="miter" stroke-miterlimit="10"/>
<path d="M987.22,331.22 L993.81,342.85 L980.63,342.85 Z" fill="none" stroke="#FF474D" stroke-width="4.0" stroke-linejoin="miter" stroke-miterlimit="10"/>
<path d="M1031.00,313.42 L1037.59,325.05 L1024.41,325.05 Z" fill="none" stroke="#FF474D" stroke-width="4.0" stroke-linejoin="miter" stroke-miterlimit="10"/>
<polyline points="155.50,647.75 199.28,603.84 243.05,564.30 286.82,528.64 330.60,496.45 374.38,467.30 418.15,440.85 461.92,416.77 505.70,394.80 549.48,374.68 593.25,356.23 637.03,339.25 680.80,323.58 724.58,309.09 768.35,295.66 812.12,283.19 855.90,273.27 899.67,264.34 943.45,256.21 987.22,248.13 1031.00,243.23" fill="none" stroke="#FF474D" stroke-width="3.7" stroke-linejoin="round" stroke-dasharray="12 4.2" clip-path="url(#cp)"/>
<path d="M155.50,640.22 L162.09,651.85 L148.91,651.85 Z" fill="none" stroke="#FF474D" stroke-width="4.0" stroke-linejoin="miter" stroke-miterlimit="10"/>
<path d="M199.28,596.31 L205.87,607.94 L192.69,607.94 Z" fill="none" stroke="#FF474D" stroke-width="4.0" stroke-linejoin="miter" stroke-miterlimit="10"/>
<path d="M243.05,556.77 L249.64,568.40 L236.46,568.40 Z" fill="none" stroke="#FF474D" stroke-width="4.0" stroke-linejoin="miter" stroke-miterlimit="10"/>
<path d="M286.82,521.11 L293.41,532.74 L280.24,532.74 Z" fill="none" stroke="#FF474D" stroke-width="4.0" stroke-linejoin="miter" stroke-miterlimit="10"/>
<path d="M330.60,488.92 L337.19,500.55 L324.01,500.55 Z" fill="none" stroke="#FF474D" stroke-width="4.0" stroke-linejoin="miter" stroke-miterlimit="10"/>
<path d="M374.38,459.77 L380.96,471.40 L367.79,471.40 Z" fill="none" stroke="#FF474D" stroke-width="4.0" stroke-linejoin="miter" stroke-miterlimit="10"/>
<path d="M418.15,433.32 L424.74,444.95 L411.56,444.95 Z" fill="none" stroke="#FF474D" stroke-width="4.0" stroke-linejoin="miter" stroke-miterlimit="10"/>
<path d="M461.92,409.24 L468.51,420.87 L455.33,420.87 Z" fill="none" stroke="#FF474D" stroke-width="4.0" stroke-linejoin="miter" stroke-miterlimit="10"/>
<path d="M505.70,387.27 L512.29,398.90 L499.11,398.90 Z" fill="none" stroke="#FF474D" stroke-width="4.0" stroke-linejoin="miter" stroke-miterlimit="10"/>
<path d="M549.48,367.15 L556.07,378.78 L542.88,378.78 Z" fill="none" stroke="#FF474D" stroke-width="4.0" stroke-linejoin="miter" stroke-miterlimit="10"/>
<path d="M593.25,348.70 L599.84,360.33 L586.66,360.33 Z" fill="none" stroke="#FF474D" stroke-width="4.0" stroke-linejoin="miter" stroke-miterlimit="10"/>
<path d="M637.03,331.72 L643.62,343.35 L630.44,343.35 Z" fill="none" stroke="#FF474D" stroke-width="4.0" stroke-linejoin="miter" stroke-miterlimit="10"/>
<path d="M680.80,316.05 L687.39,327.68 L674.21,327.68 Z" fill="none" stroke="#FF474D" stroke-width="4.0" stroke-linejoin="miter" stroke-miterlimit="10"/>
<path d="M724.58,301.56 L731.17,313.19 L717.99,313.19 Z" fill="none" stroke="#FF474D" stroke-width="4.0" stroke-linejoin="miter" stroke-miterlimit="10"/>
<path d="M768.35,288.13 L774.94,299.76 L761.76,299.76 Z" fill="none" stroke="#FF474D" stroke-width="4.0" stroke-linejoin="miter" stroke-miterlimit="10"/>
<path d="M812.12,275.66 L818.72,287.29 L805.53,287.29 Z" fill="none" stroke="#FF474D" stroke-width="4.0" stroke-linejoin="miter" stroke-miterlimit="10"/>
<path d="M855.90,265.74 L862.49,277.37 L849.31,277.37 Z" fill="none" stroke="#FF474D" stroke-width="4.0" stroke-linejoin="miter" stroke-miterlimit="10"/>
<path d="M899.67,256.81 L906.26,268.44 L893.08,268.44 Z" fill="none" stroke="#FF474D" stroke-width="4.0" stroke-linejoin="miter" stroke-miterlimit="10"/>
<path d="M943.45,248.68 L950.04,260.31 L936.86,260.31 Z" fill="none" stroke="#FF474D" stroke-width="4.0" stroke-linejoin="miter" stroke-miterlimit="10"/>
<path d="M987.22,240.60 L993.81,252.23 L980.63,252.23 Z" fill="none" stroke="#FF474D" stroke-width="4.0" stroke-linejoin="miter" stroke-miterlimit="10"/>
<path d="M1031.00,235.70 L1037.59,247.33 L1024.41,247.33 Z" fill="none" stroke="#FF474D" stroke-width="4.0" stroke-linejoin="miter" stroke-miterlimit="10"/>
<polyline points="155.50,641.35 199.28,597.44 243.05,557.90 286.82,522.24 330.60,490.05 374.38,460.90 418.15,434.45 461.92,410.37 505.70,388.40 549.48,368.28 593.25,349.83 637.03,332.85 680.80,317.18 724.58,302.69 768.35,289.26 812.12,276.79 855.90,265.57 899.67,255.34 943.45,246.01 987.22,237.53 1031.00,230.23" fill="none" stroke="#FF474D" stroke-width="3.7" stroke-linejoin="round" stroke-dasharray="3.1 3.1" clip-path="url(#cp)"/>
<path d="M155.50,633.82 L162.09,645.45 L148.91,645.45 Z" fill="none" stroke="#FF474D" stroke-width="4.0" stroke-linejoin="miter" stroke-miterlimit="10"/>
<path d="M199.28,589.91 L205.87,601.54 L192.69,601.54 Z" fill="none" stroke="#FF474D" stroke-width="4.0" stroke-linejoin="miter" stroke-miterlimit="10"/>
<path d="M243.05,550.37 L249.64,562.00 L236.46,562.00 Z" fill="none" stroke="#FF474D" stroke-width="4.0" stroke-linejoin="miter" stroke-miterlimit="10"/>
<path d="M286.82,514.71 L293.41,526.34 L280.24,526.34 Z" fill="none" stroke="#FF474D" stroke-width="4.0" stroke-linejoin="miter" stroke-miterlimit="10"/>
<path d="M330.60,482.52 L337.19,494.15 L324.01,494.15 Z" fill="none" stroke="#FF474D" stroke-width="4.0" stroke-linejoin="miter" stroke-miterlimit="10"/>
<path d="M374.38,453.37 L380.96,465.00 L367.79,465.00 Z" fill="none" stroke="#FF474D" stroke-width="4.0" stroke-linejoin="miter" stroke-miterlimit="10"/>
<path d="M418.15,426.92 L424.74,438.55 L411.56,438.55 Z" fill="none" stroke="#FF474D" stroke-width="4.0" stroke-linejoin="miter" stroke-miterlimit="10"/>
<path d="M461.92,402.84 L468.51,414.47 L455.33,414.47 Z" fill="none" stroke="#FF474D" stroke-width="4.0" stroke-linejoin="miter" stroke-miterlimit="10"/>
<path d="M505.70,380.87 L512.29,392.50 L499.11,392.50 Z" fill="none" stroke="#FF474D" stroke-width="4.0" stroke-linejoin="miter" stroke-miterlimit="10"/>
<path d="M549.48,360.75 L556.07,372.38 L542.88,372.38 Z" fill="none" stroke="#FF474D" stroke-width="4.0" stroke-linejoin="miter" stroke-miterlimit="10"/>
<path d="M593.25,342.30 L599.84,353.93 L586.66,353.93 Z" fill="none" stroke="#FF474D" stroke-width="4.0" stroke-linejoin="miter" stroke-miterlimit="10"/>
<path d="M637.03,325.32 L643.62,336.95 L630.44,336.95 Z" fill="none" stroke="#FF474D" stroke-width="4.0" stroke-linejoin="miter" stroke-miterlimit="10"/>
<path d="M680.80,309.65 L687.39,321.28 L674.21,321.28 Z" fill="none" stroke="#FF474D" stroke-width="4.0" stroke-linejoin="miter" stroke-miterlimit="10"/>
<path d="M724.58,295.16 L731.17,306.79 L717.99,306.79 Z" fill="none" stroke="#FF474D" stroke-width="4.0" stroke-linejoin="miter" stroke-miterlimit="10"/>
<path d="M768.35,281.73 L774.94,293.36 L761.76,293.36 Z" fill="none" stroke="#FF474D" stroke-width="4.0" stroke-linejoin="miter" stroke-miterlimit="10"/>
<path d="M812.12,269.26 L818.72,280.89 L805.53,280.89 Z" fill="none" stroke="#FF474D" stroke-width="4.0" stroke-linejoin="miter" stroke-miterlimit="10"/>
<path d="M855.90,258.04 L862.49,269.67 L849.31,269.67 Z" fill="none" stroke="#FF474D" stroke-width="4.0" stroke-linejoin="miter" stroke-miterlimit="10"/>
<path d="M899.67,247.81 L906.26,259.44 L893.08,259.44 Z" fill="none" stroke="#FF474D" stroke-width="4.0" stroke-linejoin="miter" stroke-miterlimit="10"/>
<path d="M943.45,238.48 L950.04,250.11 L936.86,250.11 Z" fill="none" stroke="#FF474D" stroke-width="4.0" stroke-linejoin="miter" stroke-miterlimit="10"/>
<path d="M987.22,230.00 L993.81,241.63 L980.63,241.63 Z" fill="none" stroke="#FF474D" stroke-width="4.0" stroke-linejoin="miter" stroke-miterlimit="10"/>
<path d="M1031.00,222.70 L1037.59,234.33 L1024.41,234.33 Z" fill="none" stroke="#FF474D" stroke-width="4.0" stroke-linejoin="miter" stroke-miterlimit="10"/>
<polyline points="155.50,628.95 199.28,585.04 243.05,545.50 286.82,509.84 330.60,477.65 374.38,448.50 418.15,422.05 461.92,397.97 505.70,376.00 549.48,355.88 593.25,337.43 637.03,320.45 680.80,304.78 724.58,290.29 768.35,276.86 812.12,264.39 855.90,252.77 899.67,241.94 943.45,231.81 987.22,222.33 1031.00,213.43" fill="none" stroke="#FF474D" stroke-width="3.7" stroke-linejoin="round" clip-path="url(#cp)"/>
<circle cx="155.50" cy="628.95" r="5.7" fill="none" stroke="#FF474D" stroke-width="4.4"/>
<circle cx="199.28" cy="585.04" r="5.7" fill="none" stroke="#FF474D" stroke-width="4.4"/>
<circle cx="243.05" cy="545.50" r="5.7" fill="none" stroke="#FF474D" stroke-width="4.4"/>
<circle cx="286.82" cy="509.84" r="5.7" fill="none" stroke="#FF474D" stroke-width="4.4"/>
<circle cx="330.60" cy="477.65" r="5.7" fill="none" stroke="#FF474D" stroke-width="4.4"/>
<circle cx="374.38" cy="448.50" r="5.7" fill="none" stroke="#FF474D" stroke-width="4.4"/>
<circle cx="418.15" cy="422.05" r="5.7" fill="none" stroke="#FF474D" stroke-width="4.4"/>
<circle cx="461.92" cy="397.97" r="5.7" fill="none" stroke="#FF474D" stroke-width="4.4"/>
<circle cx="505.70" cy="376.00" r="5.7" fill="none" stroke="#FF474D" stroke-width="4.4"/>
<circle cx="549.48" cy="355.88" r="5.7" fill="none" stroke="#FF474D" stroke-width="4.4"/>
<circle cx="593.25" cy="337.43" r="5.7" fill="none" stroke="#FF474D" stroke-width="4.4"/>
<circle cx="637.03" cy="320.45" r="5.7" fill="none" stroke="#FF474D" stroke-width="4.4"/>
<circle cx="680.80" cy="304.78" r="5.7" fill="none" stroke="#FF474D" stroke-width="4.4"/>
<circle cx="724.58" cy="290.29" r="5.7" fill="none" stroke="#FF474D" stroke-width="4.4"/>
<circle cx="768.35" cy="276.86" r="5.7" fill="none" stroke="#FF474D" stroke-width="4.4"/>
<circle cx="812.12" cy="264.39" r="5.7" fill="none" stroke="#FF474D" stroke-width="4.4"/>
<circle cx="855.90" cy="252.77" r="5.7" fill="none" stroke="#FF474D" stroke-width="4.4"/>
<circle cx="899.67" cy="241.94" r="5.7" fill="none" stroke="#FF474D" stroke-width="4.4"/>
<circle cx="943.45" cy="231.81" r="5.7" fill="none" stroke="#FF474D" stroke-width="4.4"/>
<circle cx="987.22" cy="222.33" r="5.7" fill="none" stroke="#FF474D" stroke-width="4.4"/>
<circle cx="1031.00" cy="213.43" r="5.7" fill="none" stroke="#FF474D" stroke-width="4.4"/>
<polyline points="155.50,612.15 199.28,568.24 243.05,528.70 286.82,493.04 330.60,460.85 374.38,431.70 418.15,405.25 461.92,381.17 505.70,359.20 549.48,339.08 593.25,320.63 637.03,303.65 680.80,287.98 724.58,273.49 768.35,260.06 812.12,247.59 855.90,235.97 899.67,225.14 943.45,215.01 987.22,205.53 1031.00,196.63" fill="none" stroke="#FF474D" stroke-width="3.7" stroke-linejoin="round" stroke-dasharray="12 4.2" clip-path="url(#cp)"/>
<circle cx="155.50" cy="612.15" r="5.7" fill="none" stroke="#FF474D" stroke-width="4.4"/>
<circle cx="199.28" cy="568.24" r="5.7" fill="none" stroke="#FF474D" stroke-width="4.4"/>
<circle cx="243.05" cy="528.70" r="5.7" fill="none" stroke="#FF474D" stroke-width="4.4"/>
<circle cx="286.82" cy="493.04" r="5.7" fill="none" stroke="#FF474D" stroke-width="4.4"/>
<circle cx="330.60" cy="460.85" r="5.7" fill="none" stroke="#FF474D" stroke-width="4.4"/>
<circle cx="374.38" cy="431.70" r="5.7" fill="none" stroke="#FF474D" stroke-width="4.4"/>
<circle cx="418.15" cy="405.25" r="5.7" fill="none" stroke="#FF474D" stroke-width="4.4"/>
<circle cx="461.92" cy="381.17" r="5.7" fill="none" stroke="#FF474D" stroke-width="4.4"/>
<circle cx="505.70" cy="359.20" r="5.7" fill="none" stroke="#FF474D" stroke-width="4.4"/>
<circle cx="549.48" cy="339.08" r="5.7" fill="none" stroke="#FF474D" stroke-width="4.4"/>
<circle cx="593.25" cy="320.63" r="5.7" fill="none" stroke="#FF474D" stroke-width="4.4"/>
<circle cx="637.03" cy="303.65" r="5.7" fill="none" stroke="#FF474D" stroke-width="4.4"/>
<circle cx="680.80" cy="287.98" r="5.7" fill="none" stroke="#FF474D" stroke-width="4.4"/>
<circle cx="724.58" cy="273.49" r="5.7" fill="none" stroke="#FF474D" stroke-width="4.4"/>
<circle cx="768.35" cy="260.06" r="5.7" fill="none" stroke="#FF474D" stroke-width="4.4"/>
<circle cx="812.12" cy="247.59" r="5.7" fill="none" stroke="#FF474D" stroke-width="4.4"/>
<circle cx="855.90" cy="235.97" r="5.7" fill="none" stroke="#FF474D" stroke-width="4.4"/>
<circle cx="899.67" cy="225.14" r="5.7" fill="none" stroke="#FF474D" stroke-width="4.4"/>
<circle cx="943.45" cy="215.01" r="5.7" fill="none" stroke="#FF474D" stroke-width="4.4"/>
<circle cx="987.22" cy="205.53" r="5.7" fill="none" stroke="#FF474D" stroke-width="4.4"/>
<circle cx="1031.00" cy="196.63" r="5.7" fill="none" stroke="#FF474D" stroke-width="4.4"/>
<polyline points="155.50,597.75 199.28,553.84 243.05,514.30 286.82,478.64 330.60,446.45 374.38,417.30 418.15,390.85 461.92,366.77 505.70,344.80 549.48,324.68 593.25,306.23 637.03,289.25 680.80,273.58 724.58,259.09 768.35,245.66 812.12,233.19 855.90,221.57 899.67,210.74 943.45,200.61 987.22,191.13 1031.00,182.23" fill="none" stroke="#FF474D" stroke-width="3.7" stroke-linejoin="round" stroke-dasharray="3.1 3.1" clip-path="url(#cp)"/>
<circle cx="155.50" cy="597.75" r="5.7" fill="none" stroke="#FF474D" stroke-width="4.4"/>
<circle cx="199.28" cy="553.84" r="5.7" fill="none" stroke="#FF474D" stroke-width="4.4"/>
<circle cx="243.05" cy="514.30" r="5.7" fill="none" stroke="#FF474D" stroke-width="4.4"/>
<circle cx="286.82" cy="478.64" r="5.7" fill="none" stroke="#FF474D" stroke-width="4.4"/>
<circle cx="330.60" cy="446.45" r="5.7" fill="none" stroke="#FF474D" stroke-width="4.4"/>
<circle cx="374.38" cy="417.30" r="5.7" fill="none" stroke="#FF474D" stroke-width="4.4"/>
<circle cx="418.15" cy="390.85" r="5.7" fill="none" stroke="#FF474D" stroke-width="4.4"/>
<circle cx="461.92" cy="366.77" r="5.7" fill="none" stroke="#FF474D" stroke-width="4.4"/>
<circle cx="505.70" cy="344.80" r="5.7" fill="none" stroke="#FF474D" stroke-width="4.4"/>
<circle cx="549.48" cy="324.68" r="5.7" fill="none" stroke="#FF474D" stroke-width="4.4"/>
<circle cx="593.25" cy="306.23" r="5.7" fill="none" stroke="#FF474D" stroke-width="4.4"/>
<circle cx="637.03" cy="289.25" r="5.7" fill="none" stroke="#FF474D" stroke-width="4.4"/>
<circle cx="680.80" cy="273.58" r="5.7" fill="none" stroke="#FF474D" stroke-width="4.4"/>
<circle cx="724.58" cy="259.09" r="5.7" fill="none" stroke="#FF474D" stroke-width="4.4"/>
<circle cx="768.35" cy="245.66" r="5.7" fill="none" stroke="#FF474D" stroke-width="4.4"/>
<circle cx="812.12" cy="233.19" r="5.7" fill="none" stroke="#FF474D" stroke-width="4.4"/>
<circle cx="855.90" cy="221.57" r="5.7" fill="none" stroke="#FF474D" stroke-width="4.4"/>
<circle cx="899.67" cy="210.74" r="5.7" fill="none" stroke="#FF474D" stroke-width="4.4"/>
<circle cx="943.45" cy="200.61" r="5.7" fill="none" stroke="#FF474D" stroke-width="4.4"/>
<circle cx="987.22" cy="191.13" r="5.7" fill="none" stroke="#FF474D" stroke-width="4.4"/>
<circle cx="1031.00" cy="182.23" r="5.7" fill="none" stroke="#FF474D" stroke-width="4.4"/>
<polyline points="155.50,81.90 199.28,81.90 243.05,81.90 286.82,81.90 330.60,81.90 374.38,81.90 418.15,81.90 461.92,81.90 505.70,81.90 549.48,81.90 593.25,81.90 637.03,81.90 680.80,81.90 724.58,81.90 768.35,81.90 812.12,81.91 855.90,81.91 899.67,81.92 943.45,81.93 987.22,81.95 1031.00,81.98" fill="none" stroke="#3398C9" stroke-width="3.7" stroke-linejoin="round" clip-path="url(#cp)"/>
<path d="M155.50,74.37 L162.09,86.00 L148.91,86.00 Z" fill="none" stroke="#3398C9" stroke-width="4.0" stroke-linejoin="miter" stroke-miterlimit="10"/>
<path d="M199.28,74.37 L205.87,86.00 L192.69,86.00 Z" fill="none" stroke="#3398C9" stroke-width="4.0" stroke-linejoin="miter" stroke-miterlimit="10"/>
<path d="M243.05,74.37 L249.64,86.00 L236.46,86.00 Z" fill="none" stroke="#3398C9" stroke-width="4.0" stroke-linejoin="miter" stroke-miterlimit="10"/>
<path d="M286.82,74.37 L293.41,86.00 L280.24,86.00 Z" fill="none" stroke="#3398C9" stroke-width="4.0" stroke-linejoin="miter" stroke-miterlimit="10"/>
<path d="M330.60,74.37 L337.19,86.00 L324.01,86.00 Z" fill="none" stroke="#3398C9" stroke-width="4.0" stroke-linejoin="miter" stroke-miterlimit="10"/>
<path d="M374.38,74.37 L380.96,86.00 L367.79,86.00 Z" fill="none" stroke="#3398C9" stroke-width="4.0" stroke-linejoin="miter" stroke-miterlimit="10"/>
<path d="M418.15,74.37 L424.74,86.00 L411.56,86.00 Z" fill="none" stroke="#3398C9" stroke-width="4.0" stroke-linejoin="miter" stroke-miterlimit="10"/>
<path d="M461.92,74.37 L468.51,86.00 L455.33,86.00 Z" fill="none" stroke="#3398C9" stroke-width="4.0" stroke-linejoin="miter" stroke-miterlimit="10"/>
<path d="M505.70,74.37 L512.29,86.00 L499.11,86.00 Z" fill="none" stroke="#3398C9" stroke-width="4.0" stroke-linejoin="miter" stroke-miterlimit="10"/>
<path d="M549.48,74.37 L556.07,86.00 L542.88,86.00 Z" fill="none" stroke="#3398C9" stroke-width="4.0" stroke-linejoin="miter" stroke-miterlimit="10"/>
<path d="M593.25,74.37 L599.84,86.00 L586.66,86.00 Z" fill="none" stroke="#3398C9" stroke-width="4.0" stroke-linejoin="miter" stroke-miterlimit="10"/>
<path d="M637.03,74.37 L643.62,86.00 L630.44,86.00 Z" fill="none" stroke="#3398C9" stroke-width="4.0" stroke-linejoin="miter" stroke-miterlimit="10"/>
<path d="M680.80,74.37 L687.39,86.00 L674.21,86.00 Z" fill="none" stroke="#3398C9" stroke-width="4.0" stroke-linejoin="miter" stroke-miterlimit="10"/>
<path d="M724.58,74.37 L731.17,86.00 L717.99,86.00 Z" fill="none" stroke="#3398C9" stroke-width="4.0" stroke-linejoin="miter" stroke-miterlimit="10"/>
<path d="M768.35,74.37 L774.94,86.00 L761.76,86.00 Z" fill="none" stroke="#3398C9" stroke-width="4.0" stroke-linejoin="miter" stroke-miterlimit="10"/>
<path d="M812.12,74.38 L818.72,86.01 L805.53,86.01 Z" fill="none" stroke="#3398C9" stroke-width="4.0" stroke-linejoin="miter" stroke-miterlimit="10"/>
<path d="M855.90,74.38 L862.49,86.01 L849.31,86.01 Z" fill="none" stroke="#3398C9" stroke-width="4.0" stroke-linejoin="miter" stroke-miterlimit="10"/>
<path d="M899.67,74.39 L906.26,86.02 L893.08,86.02 Z" fill="none" stroke="#3398C9" stroke-width="4.0" stroke-linejoin="miter" stroke-miterlimit="10"/>
<path d="M943.45,74.40 L950.04,86.03 L936.86,86.03 Z" fill="none" stroke="#3398C9" stroke-width="4.0" stroke-linejoin="miter" stroke-miterlimit="10"/>
<path d="M987.22,74.42 L993.81,86.05 L980.63,86.05 Z" fill="none" stroke="#3398C9" stroke-width="4.0" stroke-linejoin="miter" stroke-miterlimit="10"/>
<path d="M1031.00,74.45 L1037.59,86.08 L1024.41,86.08 Z" fill="none" stroke="#3398C9" stroke-width="4.0" stroke-linejoin="miter" stroke-miterlimit="10"/>
<polyline points="155.50,81.90 199.28,81.90 243.05,81.90 286.82,81.90 330.60,81.90 374.38,81.90 418.15,81.90 461.92,81.91 505.70,81.91 549.48,81.92 593.25,81.93 637.03,81.95 680.80,81.97 724.58,82.01 768.35,82.05 812.12,82.11 855.90,82.17 899.67,82.24 943.45,82.32 987.22,82.42 1031.00,82.49" fill="none" stroke="#3398C9" stroke-width="3.7" stroke-linejoin="round" stroke-dasharray="12 4.2" clip-path="url(#cp)"/>
<path d="M155.50,74.37 L162.09,86.00 L148.91,86.00 Z" fill="none" stroke="#3398C9" stroke-width="4.0" stroke-linejoin="miter" stroke-miterlimit="10"/>
<path d="M199.28,74.37 L205.87,86.00 L192.69,86.00 Z" fill="none" stroke="#3398C9" stroke-width="4.0" stroke-linejoin="miter" stroke-miterlimit="10"/>
<path d="M243.05,74.37 L249.64,86.00 L236.46,86.00 Z" fill="none" stroke="#3398C9" stroke-width="4.0" stroke-linejoin="miter" stroke-miterlimit="10"/>
<path d="M286.82,74.37 L293.41,86.00 L280.24,86.00 Z" fill="none" stroke="#3398C9" stroke-width="4.0" stroke-linejoin="miter" stroke-miterlimit="10"/>
<path d="M330.60,74.37 L337.19,86.00 L324.01,86.00 Z" fill="none" stroke="#3398C9" stroke-width="4.0" stroke-linejoin="miter" stroke-miterlimit="10"/>
<path d="M374.38,74.37 L380.96,86.00 L367.79,86.00 Z" fill="none" stroke="#3398C9" stroke-width="4.0" stroke-linejoin="miter" stroke-miterlimit="10"/>
<path d="M418.15,74.37 L424.74,86.00 L411.56,86.00 Z" fill="none" stroke="#3398C9" stroke-width="4.0" stroke-linejoin="miter" stroke-miterlimit="10"/>
<path d="M461.92,74.38 L468.51,86.01 L455.33,86.01 Z" fill="none" stroke="#3398C9" stroke-width="4.0" stroke-linejoin="miter" stroke-miterlimit="10"/>
<path d="M505.70,74.38 L512.29,86.01 L499.11,86.01 Z" fill="none" stroke="#3398C9" stroke-width="4.0" stroke-linejoin="miter" stroke-miterlimit="10"/>
<path d="M549.48,74.39 L556.07,86.02 L542.88,86.02 Z" fill="none" stroke="#3398C9" stroke-width="4.0" stroke-linejoin="miter" stroke-miterlimit="10"/>
<path d="M593.25,74.40 L599.84,86.03 L586.66,86.03 Z" fill="none" stroke="#3398C9" stroke-width="4.0" stroke-linejoin="miter" stroke-miterlimit="10"/>
<path d="M637.03,74.42 L643.62,86.05 L630.44,86.05 Z" fill="none" stroke="#3398C9" stroke-width="4.0" stroke-linejoin="miter" stroke-miterlimit="10"/>
<path d="M680.80,74.44 L687.39,86.07 L674.21,86.07 Z" fill="none" stroke="#3398C9" stroke-width="4.0" stroke-linejoin="miter" stroke-miterlimit="10"/>
<path d="M724.58,74.48 L731.17,86.11 L717.99,86.11 Z" fill="none" stroke="#3398C9" stroke-width="4.0" stroke-linejoin="miter" stroke-miterlimit="10"/>
<path d="M768.35,74.52 L774.94,86.15 L761.76,86.15 Z" fill="none" stroke="#3398C9" stroke-width="4.0" stroke-linejoin="miter" stroke-miterlimit="10"/>
<path d="M812.12,74.58 L818.72,86.21 L805.53,86.21 Z" fill="none" stroke="#3398C9" stroke-width="4.0" stroke-linejoin="miter" stroke-miterlimit="10"/>
<path d="M855.90,74.64 L862.49,86.27 L849.31,86.27 Z" fill="none" stroke="#3398C9" stroke-width="4.0" stroke-linejoin="miter" stroke-miterlimit="10"/>
<path d="M899.67,74.71 L906.26,86.34 L893.08,86.34 Z" fill="none" stroke="#3398C9" stroke-width="4.0" stroke-linejoin="miter" stroke-miterlimit="10"/>
<path d="M943.45,74.79 L950.04,86.42 L936.86,86.42 Z" fill="none" stroke="#3398C9" stroke-width="4.0" stroke-linejoin="miter" stroke-miterlimit="10"/>
<path d="M987.22,74.89 L993.81,86.52 L980.63,86.52 Z" fill="none" stroke="#3398C9" stroke-width="4.0" stroke-linejoin="miter" stroke-miterlimit="10"/>
<path d="M1031.00,74.96 L1037.59,86.59 L1024.41,86.59 Z" fill="none" stroke="#3398C9" stroke-width="4.0" stroke-linejoin="miter" stroke-miterlimit="10"/>
<polyline points="155.50,81.90 199.28,81.90 243.05,81.90 286.82,81.90 330.60,81.90 374.38,81.90 418.15,81.91 461.92,81.91 505.70,81.91 549.48,81.92 593.25,81.94 637.03,81.96 680.80,81.99 724.58,82.03 768.35,82.08 812.12,82.15 855.90,82.23 899.67,82.33 943.45,82.45 987.22,82.59 1031.00,82.73" fill="none" stroke="#3398C9" stroke-width="3.7" stroke-linejoin="round" stroke-dasharray="3.1 3.1" clip-path="url(#cp)"/>
<path d="M155.50,74.37 L162.09,86.00 L148.91,86.00 Z" fill="none" stroke="#3398C9" stroke-width="4.0" stroke-linejoin="miter" stroke-miterlimit="10"/>
<path d="M199.28,74.37 L205.87,86.00 L192.69,86.00 Z" fill="none" stroke="#3398C9" stroke-width="4.0" stroke-linejoin="miter" stroke-miterlimit="10"/>
<path d="M243.05,74.37 L249.64,86.00 L236.46,86.00 Z" fill="none" stroke="#3398C9" stroke-width="4.0" stroke-linejoin="miter" stroke-miterlimit="10"/>
<path d="M286.82,74.37 L293.41,86.00 L280.24,86.00 Z" fill="none" stroke="#3398C9" stroke-width="4.0" stroke-linejoin="miter" stroke-miterlimit="10"/>
<path d="M330.60,74.37 L337.19,86.00 L324.01,86.00 Z" fill="none" stroke="#3398C9" stroke-width="4.0" stroke-linejoin="miter" stroke-miterlimit="10"/>
<path d="M374.38,74.37 L380.96,86.00 L367.79,86.00 Z" fill="none" stroke="#3398C9" stroke-width="4.0" stroke-linejoin="miter" stroke-miterlimit="10"/>
<path d="M418.15,74.38 L424.74,86.01 L411.56,86.01 Z" fill="none" stroke="#3398C9" stroke-width="4.0" stroke-linejoin="miter" stroke-miterlimit="10"/>
<path d="M461.92,74.38 L468.51,86.01 L455.33,86.01 Z" fill="none" stroke="#3398C9" stroke-width="4.0" stroke-linejoin="miter" stroke-miterlimit="10"/>
<path d="M505.70,74.38 L512.29,86.01 L499.11,86.01 Z" fill="none" stroke="#3398C9" stroke-width="4.0" stroke-linejoin="miter" stroke-miterlimit="10"/>
<path d="M549.48,74.39 L556.07,86.02 L542.88,86.02 Z" fill="none" stroke="#3398C9" stroke-width="4.0" stroke-linejoin="miter" stroke-miterlimit="10"/>
<path d="M593.25,74.41 L599.84,86.04 L586.66,86.04 Z" fill="none" stroke="#3398C9" stroke-width="4.0" stroke-linejoin="miter" stroke-miterlimit="10"/>
<path d="M637.03,74.43 L643.62,86.06 L630.44,86.06 Z" fill="none" stroke="#3398C9" stroke-width="4.0" stroke-linejoin="miter" stroke-miterlimit="10"/>
<path d="M680.80,74.46 L687.39,86.09 L674.21,86.09 Z" fill="none" stroke="#3398C9" stroke-width="4.0" stroke-linejoin="miter" stroke-miterlimit="10"/>
<path d="M724.58,74.50 L731.17,86.13 L717.99,86.13 Z" fill="none" stroke="#3398C9" stroke-width="4.0" stroke-linejoin="miter" stroke-miterlimit="10"/>
<path d="M768.35,74.55 L774.94,86.18 L761.76,86.18 Z" fill="none" stroke="#3398C9" stroke-width="4.0" stroke-linejoin="miter" stroke-miterlimit="10"/>
<path d="M812.12,74.62 L818.72,86.25 L805.53,86.25 Z" fill="none" stroke="#3398C9" stroke-width="4.0" stroke-linejoin="miter" stroke-miterlimit="10"/>
<path d="M855.90,74.70 L862.49,86.33 L849.31,86.33 Z" fill="none" stroke="#3398C9" stroke-width="4.0" stroke-linejoin="miter" stroke-miterlimit="10"/>
<path d="M899.67,74.80 L906.26,86.43 L893.08,86.43 Z" fill="none" stroke="#3398C9" stroke-width="4.0" stroke-linejoin="miter" stroke-miterlimit="10"/>
<path d="M943.45,74.92 L950.04,86.55 L936.86,86.55 Z" fill="none" stroke="#3398C9" stroke-width="4.0" stroke-linejoin="miter" stroke-miterlimit="10"/>
<path d="M987.22,75.06 L993.81,86.69 L980.63,86.69 Z" fill="none" stroke="#3398C9" stroke-width="4.0" stroke-linejoin="miter" stroke-miterlimit="10"/>
<path d="M1031.00,75.20 L1037.59,86.83 L1024.41,86.83 Z" fill="none" stroke="#3398C9" stroke-width="4.0" stroke-linejoin="miter" stroke-miterlimit="10"/>
<polyline points="155.50,81.90 199.28,81.90 243.05,81.90 286.82,81.90 330.60,81.90 374.38,81.90 418.15,81.91 461.92,81.91 505.70,81.92 549.48,81.93 593.25,81.95 637.03,81.98 680.80,82.02 724.58,82.07 768.35,82.15 812.12,82.24 855.90,82.36 899.67,82.51 943.45,82.70 987.22,82.93 1031.00,83.20" fill="none" stroke="#3398C9" stroke-width="3.7" stroke-linejoin="round" clip-path="url(#cp)"/>
<circle cx="155.50" cy="81.90" r="5.7" fill="none" stroke="#3398C9" stroke-width="4.4"/>
<circle cx="199.28" cy="81.90" r="5.7" fill="none" stroke="#3398C9" stroke-width="4.4"/>
<circle cx="243.05" cy="81.90" r="5.7" fill="none" stroke="#3398C9" stroke-width="4.4"/>
<circle cx="286.82" cy="81.90" r="5.7" fill="none" stroke="#3398C9" stroke-width="4.4"/>
<circle cx="330.60" cy="81.90" r="5.7" fill="none" stroke="#3398C9" stroke-width="4.4"/>
<circle cx="374.38" cy="81.90" r="5.7" fill="none" stroke="#3398C9" stroke-width="4.4"/>
<circle cx="418.15" cy="81.91" r="5.7" fill="none" stroke="#3398C9" stroke-width="4.4"/>
<circle cx="461.92" cy="81.91" r="5.7" fill="none" stroke="#3398C9" stroke-width="4.4"/>
<circle cx="505.70" cy="81.92" r="5.7" fill="none" stroke="#3398C9" stroke-width="4.4"/>
<circle cx="549.48" cy="81.93" r="5.7" fill="none" stroke="#3398C9" stroke-width="4.4"/>
<circle cx="593.25" cy="81.95" r="5.7" fill="none" stroke="#3398C9" stroke-width="4.4"/>
<circle cx="637.03" cy="81.98" r="5.7" fill="none" stroke="#3398C9" stroke-width="4.4"/>
<circle cx="680.80" cy="82.02" r="5.7" fill="none" stroke="#3398C9" stroke-width="4.4"/>
<circle cx="724.58" cy="82.07" r="5.7" fill="none" stroke="#3398C9" stroke-width="4.4"/>
<circle cx="768.35" cy="82.15" r="5.7" fill="none" stroke="#3398C9" stroke-width="4.4"/>
<circle cx="812.12" cy="82.24" r="5.7" fill="none" stroke="#3398C9" stroke-width="4.4"/>
<circle cx="855.90" cy="82.36" r="5.7" fill="none" stroke="#3398C9" stroke-width="4.4"/>
<circle cx="899.67" cy="82.51" r="5.7" fill="none" stroke="#3398C9" stroke-width="4.4"/>
<circle cx="943.45" cy="82.70" r="5.7" fill="none" stroke="#3398C9" stroke-width="4.4"/>
<circle cx="987.22" cy="82.93" r="5.7" fill="none" stroke="#3398C9" stroke-width="4.4"/>
<circle cx="1031.00" cy="83.20" r="5.7" fill="none" stroke="#3398C9" stroke-width="4.4"/>
<polyline points="155.50,81.90 199.28,81.90 243.05,81.90 286.82,81.90 330.60,81.90 374.38,81.91 418.15,81.91 461.92,81.92 505.70,81.93 549.48,81.95 593.25,81.98 637.03,82.02 680.80,82.08 724.58,82.17 768.35,82.28 812.12,82.43 855.90,82.62 899.67,82.85 943.45,83.15 987.22,83.50 1031.00,83.93" fill="none" stroke="#3398C9" stroke-width="3.7" stroke-linejoin="round" stroke-dasharray="12 4.2" clip-path="url(#cp)"/>
<circle cx="155.50" cy="81.90" r="5.7" fill="none" stroke="#3398C9" stroke-width="4.4"/>
<circle cx="199.28" cy="81.90" r="5.7" fill="none" stroke="#3398C9" stroke-width="4.4"/>
<circle cx="243.05" cy="81.90" r="5.7" fill="none" stroke="#3398C9" stroke-width="4.4"/>
<circle cx="286.82" cy="81.90" r="5.7" fill="none" stroke="#3398C9" stroke-width="4.4"/>
<circle cx="330.60" cy="81.90" r="5.7" fill="none" stroke="#3398C9" stroke-width="4.4"/>
<circle cx="374.38" cy="81.91" r="5.7" fill="none" stroke="#3398C9" stroke-width="4.4"/>
<circle cx="418.15" cy="81.91" r="5.7" fill="none" stroke="#3398C9" stroke-width="4.4"/>
<circle cx="461.92" cy="81.92" r="5.7" fill="none" stroke="#3398C9" stroke-width="4.4"/>
<circle cx="505.70" cy="81.93" r="5.7" fill="none" stroke="#3398C9" stroke-width="4.4"/>
<circle cx="549.48" cy="81.95" r="5.7" fill="none" stroke="#3398C9" stroke-width="4.4"/>
<circle cx="593.25" cy="81.98" r="5.7" fill="none" stroke="#3398C9" stroke-width="4.4"/>
<circle cx="637.03" cy="82.02" r="5.7" fill="none" stroke="#3398C9" stroke-width="4.4"/>
<circle cx="680.80" cy="82.08" r="5.7" fill="none" stroke="#3398C9" stroke-width="4.4"/>
<circle cx="724.58" cy="82.17" r="5.7" fill="none" stroke="#3398C9" stroke-width="4.4"/>
<circle cx="768.35" cy="82.28" r="5.7" fill="none" stroke="#3398C9" stroke-width="4.4"/>
<circle cx="812.12" cy="82.43" r="5.7" fill="none" stroke="#3398C9" stroke-width="4.4"/>
<circle cx="855.90" cy="82.62" r="5.7" fill="none" stroke="#3398C9" stroke-width="4.4"/>
<circle cx="899.67" cy="82.85" r="5.7" fill="none" stroke="#3398C9" stroke-width="4.4"/>
<circle cx="943.45" cy="83.15" r="5.7" fill="none" stroke="#3398C9" stroke-width="4.4"/>
<circle cx="987.22" cy="83.50" r="5.7" fill="none" stroke="#3398C9" stroke-width="4.4"/>
<circle cx="1031.00" cy="83.93" r="5.7" fill="none" stroke="#3398C9" stroke-width="4.4"/>
<polyline points="155.50,81.90 199.28,81.90 243.05,81.90 286.82,81.90 330.60,81.90 374.38,81.91 418.15,81.91 461.92,81.93 505.70,81.94 549.48,81.97 593.25,82.02 637.03,82.08 680.80,82.17 724.58,82.29 768.35,82.46 812.12,82.67 855.90,82.95 899.67,83.30 943.45,83.73 987.22,84.26 1031.00,84.91" fill="none" stroke="#3398C9" stroke-width="3.7" stroke-linejoin="round" stroke-dasharray="3.1 3.1" clip-path="url(#cp)"/>
<circle cx="155.50" cy="81.90" r="5.7" fill="none" stroke="#3398C9" stroke-width="4.4"/>
<circle cx="199.28" cy="81.90" r="5.7" fill="none" stroke="#3398C9" stroke-width="4.4"/>
<circle cx="243.05" cy="81.90" r="5.7" fill="none" stroke="#3398C9" stroke-width="4.4"/>
<circle cx="286.82" cy="81.90" r="5.7" fill="none" stroke="#3398C9" stroke-width="4.4"/>
<circle cx="330.60" cy="81.90" r="5.7" fill="none" stroke="#3398C9" stroke-width="4.4"/>
<circle cx="374.38" cy="81.91" r="5.7" fill="none" stroke="#3398C9" stroke-width="4.4"/>
<circle cx="418.15" cy="81.91" r="5.7" fill="none" stroke="#3398C9" stroke-width="4.4"/>
<circle cx="461.92" cy="81.93" r="5.7" fill="none" stroke="#3398C9" stroke-width="4.4"/>
<circle cx="505.70" cy="81.94" r="5.7" fill="none" stroke="#3398C9" stroke-width="4.4"/>
<circle cx="549.48" cy="81.97" r="5.7" fill="none" stroke="#3398C9" stroke-width="4.4"/>
<circle cx="593.25" cy="82.02" r="5.7" fill="none" stroke="#3398C9" stroke-width="4.4"/>
<circle cx="637.03" cy="82.08" r="5.7" fill="none" stroke="#3398C9" stroke-width="4.4"/>
<circle cx="680.80" cy="82.17" r="5.7" fill="none" stroke="#3398C9" stroke-width="4.4"/>
<circle cx="724.58" cy="82.29" r="5.7" fill="none" stroke="#3398C9" stroke-width="4.4"/>
<circle cx="768.35" cy="82.46" r="5.7" fill="none" stroke="#3398C9" stroke-width="4.4"/>
<circle cx="812.12" cy="82.67" r="5.7" fill="none" stroke="#3398C9" stroke-width="4.4"/>
<circle cx="855.90" cy="82.95" r="5.7" fill="none" stroke="#3398C9" stroke-width="4.4"/>
<circle cx="899.67" cy="83.30" r="5.7" fill="none" stroke="#3398C9" stroke-width="4.4"/>
<circle cx="943.45" cy="83.73" r="5.7" fill="none" stroke="#3398C9" stroke-width="4.4"/>
<circle cx="987.22" cy="84.26" r="5.7" fill="none" stroke="#3398C9" stroke-width="4.4"/>
<circle cx="1031.00" cy="84.91" r="5.7" fill="none" stroke="#3398C9" stroke-width="4.4"/>
</g>
<g id="axes">
<rect x="155.5" y="55.2" width="875.5" height="798.3" fill="none" stroke="#000" stroke-width="5.7" stroke-linejoin="miter"/>
<path d="M155.5,853.50 h12.0 M1031.0,853.50 h-12.0" stroke="#000" stroke-width="6.0" fill="none"/>
<path d="M155.5,826.80 h12.0 M1031.0,826.80 h-12.0" stroke="#000" stroke-width="6.0" fill="none"/>
<path d="M155.5,811.18 h12.0 M1031.0,811.18 h-12.0" stroke="#000" stroke-width="6.0" fill="none"/>
<path d="M155.5,800.10 h12.0 M1031.0,800.10 h-12.0" stroke="#000" stroke-width="6.0" fill="none"/>
<path d="M155.5,791.50 h12.0 M1031.0,791.50 h-12.0" stroke="#000" stroke-width="6.0" fill="none"/>
<path d="M155.5,784.48 h12.0 M1031.0,784.48 h-12.0" stroke="#000" stroke-width="6.0" fill="none"/>
<path d="M155.5,778.54 h12.0 M1031.0,778.54 h-12.0" stroke="#000" stroke-width="6.0" fill="none"/>
<path d="M155.5,773.40 h12.0 M1031.0,773.40 h-12.0" stroke="#000" stroke-width="6.0" fill="none"/>
<path d="M155.5,768.86 h12.0 M1031.0,768.86 h-12.0" stroke="#000" stroke-width="6.0" fill="none"/>
<path d="M155.5,764.80 h20.6 M1031.0,764.80 h-20.6" stroke="#000" stroke-width="6.0" fill="none"/>
<path d="M155.5,738.10 h12.0 M1031.0,738.10 h-12.0" stroke="#000" stroke-width="6.0" fill="none"/>
<path d="M155.5,722.48 h12.0 M1031.0,722.48 h-12.0" stroke="#000" stroke-width="6.0" fill="none"/>
<path d="M155.5,711.40 h12.0 M1031.0,711.40 h-12.0" stroke="#000" stroke-width="6.0" fill="none"/>
<path d="M155.5,702.80 h12.0 M1031.0,702.80 h-12.0" stroke="#000" stroke-width="6.0" fill="none"/>
<path d="M155.5,695.78 h12.0 M1031.0,695.78 h-12.0" stroke="#000" stroke-width="6.0" fill="none"/>
<path d="M155.5,689.84 h12.0 M1031.0,689.84 h-12.0" stroke="#000" stroke-width="6.0" fill="none"/>
<path d="M155.5,684.70 h12.0 M1031.0,684.70 h-12.0" stroke="#000" stroke-width="6.0" fill="none"/>
<path d="M155.5,680.16 h12.0 M1031.0,680.16 h-12.0" stroke="#000" stroke-width="6.0" fill="none"/>
<path d="M155.5,676.10 h12.0 M1031.0,676.10 h-12.0" stroke="#000" stroke-width="6.0" fill="none"/>
<path d="M155.5,649.40 h12.0 M1031.0,649.40 h-12.0" stroke="#000" stroke-width="6.0" fill="none"/>
<path d="M155.5,633.78 h12.0 M1031.0,633.78 h-12.0" stroke="#000" stroke-width="6.0" fill="none"/>
<path d="M155.5,622.70 h12.0 M1031.0,622.70 h-12.0" stroke="#000" stroke-width="6.0" fill="none"/>
<path d="M155.5,614.10 h12.0 M1031.0,614.10 h-12.0" stroke="#000" stroke-width="6.0" fill="none"/>
<path d="M155.5,607.08 h12.0 M1031.0,607.08 h-12.0" stroke="#000" stroke-width="6.0" fill="none"/>
<path d="M155.5,601.14 h12.0 M1031.0,601.14 h-12.0" stroke="#000" stroke-width="6.0" fill="none"/>
<path d="M155.5,596.00 h12.0 M1031.0,596.00 h-12.0" stroke="#000" stroke-width="6.0" fill="none"/>
<path d="M155.5,591.46 h12.0 M1031.0,591.46 h-12.0" stroke="#000" stroke-width="6.0" fill="none"/>
<path d="M155.5,587.40 h20.6 M1031.0,587.40 h-20.6" stroke="#000" stroke-width="6.0" fill="none"/>
<path d="M155.5,560.70 h12.0 M1031.0,560.70 h-12.0" stroke="#000" stroke-width="6.0" fill="none"/>
<path d="M155.5,545.08 h12.0 M1031.0,545.08 h-12.0" stroke="#000" stroke-width="6.0" fill="none"/>
<path d="M155.5,534.00 h12.0 M1031.0,534.00 h-12.0" stroke="#000" stroke-width="6.0" fill="none"/>
<path d="M155.5,525.40 h12.0 M1031.0,525.40 h-12.0" stroke="#000" stroke-width="6.0" fill="none"/>
<path d="M155.5,518.38 h12.0 M1031.0,518.38 h-12.0" stroke="#000" stroke-width="6.0" fill="none"/>
<path d="M155.5,512.44 h12.0 M1031.0,512.44 h-12.0" stroke="#000" stroke-width="6.0" fill="none"/>
<path d="M155.5,507.30 h12.0 M1031.0,507.30 h-12.0" stroke="#000" stroke-width="6.0" fill="none"/>
<path d="M155.5,502.76 h12.0 M1031.0,502.76 h-12.0" stroke="#000" stroke-width="6.0" fill="none"/>
<path d="M155.5,498.70 h12.0 M1031.0,498.70 h-12.0" stroke="#000" stroke-width="6.0" fill="none"/>
<path d="M155.5,472.00 h12.0 M1031.0,472.00 h-12.0" stroke="#000" stroke-width="6.0" fill="none"/>
<path d="M155.5,456.38 h12.0 M1031.0,456.38 h-12.0" stroke="#000" stroke-width="6.0" fill="none"/>
<path d="M155.5,445.30 h12.0 M1031.0,445.30 h-12.0" stroke="#000" stroke-width="6.0" fill="none"/>
<path d="M155.5,436.70 h12.0 M1031.0,436.70 h-12.0" stroke="#000" stroke-width="6.0" fill="none"/>
<path d="M155.5,429.68 h12.0 M1031.0,429.68 h-12.0" stroke="#000" stroke-width="6.0" fill="none"/>
<path d="M155.5,423.74 h12.0 M1031.0,423.74 h-12.0" stroke="#000" stroke-width="6.0" fill="none"/>
<path d="M155.5,418.60 h12.0 M1031.0,418.60 h-12.0" stroke="#000" stroke-width="6.0" fill="none"/>
<path d="M155.5,414.06 h12.0 M1031.0,414.06 h-12.0" stroke="#000" stroke-width="6.0" fill="none"/>
<path d="M155.5,410.00 h20.6 M1031.0,410.00 h-20.6" stroke="#000" stroke-width="6.0" fill="none"/>
<path d="M155.5,383.30 h12.0 M1031.0,383.30 h-12.0" stroke="#000" stroke-width="6.0" fill="none"/>
<path d="M155.5,367.68 h12.0 M1031.0,367.68 h-12.0" stroke="#000" stroke-width="6.0" fill="none"/>
<path d="M155.5,356.60 h12.0 M1031.0,356.60 h-12.0" stroke="#000" stroke-width="6.0" fill="none"/>
<path d="M155.5,348.00 h12.0 M1031.0,348.00 h-12.0" stroke="#000" stroke-width="6.0" fill="none"/>
<path d="M155.5,340.98 h12.0 M1031.0,340.98 h-12.0" stroke="#000" stroke-width="6.0" fill="none"/>
<path d="M155.5,335.04 h12.0 M1031.0,335.04 h-12.0" stroke="#000" stroke-width="6.0" fill="none"/>
<path d="M155.5,329.90 h12.0 M1031.0,329.90 h-12.0" stroke="#000" stroke-width="6.0" fill="none"/>
<path d="M155.5,325.36 h12.0 M1031.0,325.36 h-12.0" stroke="#000" stroke-width="6.0" fill="none"/>
<path d="M155.5,321.30 h12.0 M1031.0,321.30 h-12.0" stroke="#000" stroke-width="6.0" fill="none"/>
<path d="M155.5,294.60 h12.0 M1031.0,294.60 h-12.0" stroke="#000" stroke-width="6.0" fill="none"/>
<path d="M155.5,278.98 h12.0 M1031.0,278.98 h-12.0" stroke="#000" stroke-width="6.0" fill="none"/>
<path d="M155.5,267.90 h12.0 M1031.0,267.90 h-12.0" stroke="#000" stroke-width="6.0" fill="none"/>
<path d="M155.5,259.30 h12.0 M1031.0,259.30 h-12.0" stroke="#000" stroke-width="6.0" fill="none"/>
<path d="M155.5,252.28 h12.0 M1031.0,252.28 h-12.0" stroke="#000" stroke-width="6.0" fill="none"/>
<path d="M155.5,246.34 h12.0 M1031.0,246.34 h-12.0" stroke="#000" stroke-width="6.0" fill="none"/>
<path d="M155.5,241.20 h12.0 M1031.0,241.20 h-12.0" stroke="#000" stroke-width="6.0" fill="none"/>
<path d="M155.5,236.66 h12.0 M1031.0,236.66 h-12.0" stroke="#000" stroke-width="6.0" fill="none"/>
<path d="M155.5,232.60 h20.6 M1031.0,232.60 h-20.6" stroke="#000" stroke-width="6.0" fill="none"/>
<path d="M155.5,205.90 h12.0 M1031.0,205.90 h-12.0" stroke="#000" stroke-width="6.0" fill="none"/>
<path d="M155.5,190.28 h12.0 M1031.0,190.28 h-12.0" stroke="#000" stroke-width="6.0" fill="none"/>
<path d="M155.5,179.20 h12.0 M1031.0,179.20 h-12.0" stroke="#000" stroke-width="6.0" fill="none"/>
<path d="M155.5,170.60 h12.0 M1031.0,170.60 h-12.0" stroke="#000" stroke-width="6.0" fill="none"/>
<path d="M155.5,163.58 h12.0 M1031.0,163.58 h-12.0" stroke="#000" stroke-width="6.0" fill="none"/>
<path d="M155.5,157.64 h12.0 M1031.0,157.64 h-12.0" stroke="#000" stroke-width="6.0" fill="none"/>
<path d="M155.5,152.50 h12.0 M1031.0,152.50 h-12.0" stroke="#000" stroke-width="6.0" fill="none"/>
<path d="M155.5,147.96 h12.0 M1031.0,147.96 h-12.0" stroke="#000" stroke-width="6.0" fill="none"/>
<path d="M155.5,143.90 h12.0 M1031.0,143.90 h-12.0" stroke="#000" stroke-width="6.0" fill="none"/>
<path d="M155.5,117.20 h12.0 M1031.0,117.20 h-12.0" stroke="#000" stroke-width="6.0" fill="none"/>
<path d="M155.5,101.58 h12.0 M1031.0,101.58 h-12.0" stroke="#000" stroke-width="6.0" fill="none"/>
<path d="M155.5,90.50 h12.0 M1031.0,90.50 h-12.0" stroke="#000" stroke-width="6.0" fill="none"/>
<path d="M155.5,81.90 h12.0 M1031.0,81.90 h-12.0" stroke="#000" stroke-width="6.0" fill="none"/>
<path d="M155.5,74.88 h12.0 M1031.0,74.88 h-12.0" stroke="#000" stroke-width="6.0" fill="none"/>
<path d="M155.5,68.94 h12.0 M1031.0,68.94 h-12.0" stroke="#000" stroke-width="6.0" fill="none"/>
<path d="M155.5,63.80 h12.0 M1031.0,63.80 h-12.0" stroke="#000" stroke-width="6.0" fill="none"/>
<path d="M155.5,59.26 h12.0 M1031.0,59.26 h-12.0" stroke="#000" stroke-width="6.0" fill="none"/>
<path d="M155.5,55.20 h20.6 M1031.0,55.20 h-20.6" stroke="#000" stroke-width="6.0" fill="none"/>
<path d="M155.50,55.2 v20.6 M155.50,853.5 v-20.6" stroke="#000" stroke-width="6.0" fill="none"/>
<path d="M243.05,55.2 v12.0 M243.05,853.5 v-12.0" stroke="#000" stroke-width="6.0" fill="none"/>
<path d="M330.60,55.2 v12.0 M330.60,853.5 v-12.0" stroke="#000" stroke-width="6.0" fill="none"/>
<path d="M418.15,55.2 v12.0 M418.15,853.5 v-12.0" stroke="#000" stroke-width="6.0" fill="none"/>
<path d="M505.70,55.2 v12.0 M505.70,853.5 v-12.0" stroke="#000" stroke-width="6.0" fill="none"/>
<path d="M593.25,55.2 v20.6 M593.25,853.5 v-20.6" stroke="#000" stroke-width="6.0" fill="none"/>
<path d="M680.80,55.2 v12.0 M680.80,853.5 v-12.0" stroke="#000" stroke-width="6.0" fill="none"/>
<path d="M768.35,55.2 v12.0 M768.35,853.5 v-12.0" stroke="#000" stroke-width="6.0" fill="none"/>
<path d="M855.90,55.2 v12.0 M855.90,853.5 v-12.0" stroke="#000" stroke-width="6.0" fill="none"/>
<path d="M943.45,55.2 v12.0 M943.45,853.5 v-12.0" stroke="#000" stroke-width="6.0" fill="none"/>
<path d="M1031.00,55.2 v20.6 M1031.00,853.5 v-20.6" stroke="#000" stroke-width="6.0" fill="none"/>
</g>
<g id="text" font-family="'Liberation Sans', Arial, sans-serif" font-weight="bold" fill="#000" stroke="#000" stroke-linejoin="round">
<text transform="translate(0,63.70) scale(1.1465,1)" font-size="32.81" stroke-width="1.6" letter-spacing="1.48" clip-path="url(#k0)"><tspan x="67.55">1</tspan><tspan x="87.41">0</tspan><tspan x="106.47" dy="-13.20" font-size="21.49" stroke-width="1.1">2</tspan></text>
<text transform="translate(0,241.80) scale(1.1465,1)" font-size="32.81" stroke-width="1.6" letter-spacing="1.48" clip-path="url(#k1)"><tspan x="67.46">1</tspan><tspan x="87.32">0</tspan><tspan x="106.80" dy="-13.20" font-size="21.49" stroke-width="1.1">0</tspan></text>
<text transform="translate(0,416.20) scale(1.1465,1)" font-size="32.81" stroke-width="1.6" letter-spacing="1.48" clip-path="url(#k2)"><tspan x="64.93">1</tspan><tspan x="83.92">0</tspan><tspan x="103.98" dy="-14.90" font-size="19.03" stroke-width="1.2">−</tspan><tspan x="115.45" dy="1.70" font-size="21.49" stroke-width="1.1">2</tspan></text>
<text transform="translate(0,594.80) scale(1.1465,1)" font-size="32.81" stroke-width="1.6" letter-spacing="1.48" clip-path="url(#k3)"><tspan x="64.93">1</tspan><tspan x="83.92">0</tspan><tspan x="103.98" dy="-14.90" font-size="19.03" stroke-width="1.2">−</tspan><tspan x="115.71" dy="1.70" font-size="21.49" stroke-width="1.1">4</tspan></text>
<text transform="translate(0,769.30) scale(1.1465,1)" font-size="32.81" stroke-width="1.6" letter-spacing="1.48" clip-path="url(#k4)"><tspan x="64.93">1</tspan><tspan x="83.92">0</tspan><tspan x="103.98" dy="-14.90" font-size="19.03" stroke-width="1.2">−</tspan><tspan x="115.45" dy="1.70" font-size="21.49" stroke-width="1.1">6</tspan></text>
<text transform="translate(0,895.70) scale(1.1126,1)" font-size="33.67" stroke-width="1.6" letter-spacing="1.52"><tspan x="109.80">500</tspan></text>
<text transform="translate(0,895.70) scale(1.1053,1)" font-size="33.67" stroke-width="1.6" letter-spacing="1.52" clip-path="url(#k5)"><tspan x="497.03">1</tspan><tspan x="517.25">000</tspan></text>
<text transform="translate(0,895.70) scale(1.1160,1)" font-size="33.67" stroke-width="1.6" letter-spacing="1.52" clip-path="url(#k6)"><tspan x="885.58">1</tspan><tspan x="905.24">500</tspan></text>
<text transform="translate(0,942.50) scale(1.1129,1)" font-size="36.40" stroke-width="2.0" letter-spacing="1.64"><tspan x="377.04">Temperature</tspan> <tspan x="623.76">(</tspan><tspan x="637.60" font-size="28.39" dy="-5.57">°</tspan><tspan x="650.72" dy="5.57">C</tspan><tspan x="677.97">)</tspan></text>
<text transform="rotate(-90) translate(-583.56,56.40) scale(1.1142,1)" font-size="34.82" stroke-width="2.0" letter-spacing="1.57" >Amount (mol)</text>
<text transform="translate(0,65.45) scale(1.1247,1)" font-size="27.48" stroke-width="1.5" letter-spacing="1.24"><tspan x="946.79">Species</tspan></text>
<text transform="translate(0,100.95) scale(1.1611,1)" font-size="27.05" stroke-width="1.5" letter-spacing="1.22"><tspan x="966.09">ZrCl</tspan><tspan x="1024.49" dy="5.60" font-size="17.04" stroke-width="0.9">4</tspan></text>
<text transform="translate(0,146.15) scale(1.1611,1)" font-size="27.05" stroke-width="1.5" letter-spacing="1.22"><tspan x="966.09">ZrCl</tspan><tspan x="1024.32" dy="5.60" font-size="17.04" stroke-width="0.9">3</tspan></text>
<text transform="translate(0,189.55) scale(1.1611,1)" font-size="27.05" stroke-width="1.5" letter-spacing="1.22"><tspan x="966.09">ZrCl</tspan><tspan x="1024.14" dy="5.60" font-size="17.04" stroke-width="0.9">2</tspan></text>
<text transform="translate(0,230.85) scale(1.1838,1)" font-size="26.52" stroke-width="1.5" letter-spacing="1.19"><tspan x="946.63">H</tspan></text>
<text transform="translate(0,274.45) scale(1.1525,1)" font-size="26.52" stroke-width="1.5" letter-spacing="1.19"><tspan x="911.60">P</tspan><tspan x="929.26" dy="-10.20" font-size="16.97" stroke-width="0.9">o</tspan><tspan x="940.85" dy="16.40" font-size="19.10" stroke-width="0.9">H</tspan><tspan x="954.30" dy="5.50" font-size="18.03" stroke-width="0.9">2</tspan> <tspan x="974.21" dy="-11.30">(torr)</tspan></text>
<text transform="translate(0,320.45) scale(1.1805,1)" font-size="27.34" stroke-width="1.5" letter-spacing="1.23"><tspan x="966.47">0</tspan></text>
<text transform="translate(0,361.75) scale(1.1647,1)" font-size="27.34" stroke-width="1.5" letter-spacing="1.23"><tspan x="978.23">0.5</tspan></text>
<text transform="translate(0,399.15) scale(1.2943,1)" font-size="27.25" stroke-width="1.5" letter-spacing="1.23" clip-path="url(#k7)"><tspan x="881.38">1</tspan></text>
<text transform="translate(0,437.25) scale(1.1112,1)" font-size="28.06" stroke-width="1.5" letter-spacing="1.26"><tspan x="1027.12">3</tspan></text>
<text transform="translate(0,477.55) scale(1.1730,1)" font-size="28.49" stroke-width="1.5" letter-spacing="1.28" clip-path="url(#k8)"><tspan x="972.38">1</tspan><tspan x="989.19">2</tspan></text>
<text transform="translate(0,516.05) scale(1.1363,1)" font-size="28.49" stroke-width="1.5" letter-spacing="1.28"><tspan x="1003.70">24</tspan></text>
</g>
<g id="legend">
<path d="M1054.3,90.1 H1116.4" stroke="#0082BE" stroke-width="4.3" fill="none"/>
<path d="M1054.3,135.5 H1116.4" stroke="#FF1E23" stroke-width="4.3" fill="none"/>
<path d="M1054.3,177.7 H1116.4" stroke="#00AF4B" stroke-width="4.3" fill="none"/>
<path d="M1054.3,219.9 H1116.4" stroke="#FF8C0A" stroke-width="4.3" fill="none"/>
<path d="M1068.6,310.2 H1130.8" stroke="#000" stroke-width="4.2" fill="none"/>
<path d="M1099.50,302.40 L1106.50,315.40 L1092.50,315.40 Z" fill="none" stroke="#000" stroke-width="4" stroke-linejoin="miter"/>
<path d="M1070.6,352.3 H1128.7" stroke="#000" stroke-width="4.4" stroke-dasharray="11.7 3.75" fill="none"/>
<path d="M1099.50,344.50 L1106.50,357.50 L1092.50,357.50 Z" fill="none" stroke="#000" stroke-width="4" stroke-linejoin="miter"/>
<path d="M1067.7,390.4 H1130.6" stroke="#000" stroke-width="3.5" stroke-dasharray="3.5 3.85" fill="none"/>
<path d="M1099.50,382.60 L1106.50,395.60 L1092.50,395.60 Z" fill="none" stroke="#000" stroke-width="4" stroke-linejoin="miter"/>
<path d="M1068.6,426.2 H1130.8" stroke="#000" stroke-width="4.2" fill="none"/>
<circle cx="1099.20" cy="426.30" r="5.8" fill="none" stroke="#000" stroke-width="4.4"/>
<path d="M1070.6,468.2 H1128.7" stroke="#000" stroke-width="4.4" stroke-dasharray="11.7 3.75" fill="none"/>
<circle cx="1099.20" cy="468.30" r="5.8" fill="none" stroke="#000" stroke-width="4.4"/>
<path d="M1067.9,506.1 H1130.6" stroke="#000" stroke-width="3.5" stroke-dasharray="3.5 4.86" fill="none"/>
<circle cx="1099.20" cy="506.20" r="5.8" fill="none" stroke="#000" stroke-width="4.4"/>
</g>
</svg>
</body></html>
